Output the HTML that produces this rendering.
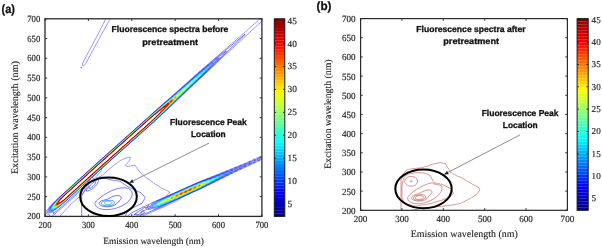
<!DOCTYPE html>
<html><head><meta charset="utf-8"><style>
html,body{margin:0;padding:0;background:#fff;width:602px;height:248px;overflow:hidden}
svg{display:block;will-change:transform;text-rendering:geometricPrecision}
.tk{font-family:"Liberation Serif",serif;fill:#1c1c1c;stroke:#1c1c1c;stroke-width:0.15px}
.sr{font-family:"Liberation Serif",serif;fill:#1c1c1c;stroke:#1c1c1c;stroke-width:0.12px}
.sb{font-family:"Liberation Sans",sans-serif;font-weight:bold;fill:#111;stroke:#111;stroke-width:0.3px}
</style></head><body>
<svg width="602" height="248" viewBox="0 0 602 248">
<rect width="602" height="248" fill="#fff"/>
<defs><clipPath id="cl"><rect x="45.0" y="18.8" width="216.9" height="197.6"/></clipPath><clipPath id="cr"><rect x="360.6" y="18.6" width="206.8" height="191.7"/></clipPath></defs><g clip-path="url(#cl)"><path d="M111.9 15.8 101.4 34.6 85.4 64.2 84.6 65.1 83.8 65.7 83.2 65.9 82.8 65.8 82.5 65.4 82.5 64.8 82.7 63.0 98.5 33.2 107.4 15.8M264.8 158.3 263.6 158.9 261.8 159.4 259.6 160.8 257.2 161.5 255.0 162.9 252.6 163.7 250.4 165.0 248.2 165.7 246.0 167.0 243.6 167.8 241.4 169.2 239.2 170.0 236.8 171.3 234.5 172.2 232.4 173.4 230.0 174.4 227.9 175.6 225.6 176.6 223.4 177.8 221.0 178.8 218.8 180.0 216.6 181.0 214.4 182.2 212.0 183.2 209.8 184.4 207.6 185.4 201.4 188.5 193.8 191.8 182.8 197.0 182.6 197.2 182.1 197.4 181.2 198.2 179.6 199.2 177.0 200.6 175.2 201.5 162.0 207.7 139.6 217.4 138.2 218.4 137.8 218.5 135.6 218.9 134.4 219.0 133.0 218.8 130.6 218.4 125.0 218.1 123.8 218.3 82.0 218.2 80.8 218.0 60.2 218.0 60.0 217.8 60.0 216.4 60.0 216.2 60.2 216.0 60.2 215.8 62.2 213.8 62.2 213.6 64.2 211.6 64.2 211.4 66.2 209.4 66.2 209.2 68.2 207.2 68.2 207.0 71.8 203.4 72.0 203.4 73.8 201.6 74.0 201.6 75.8 199.8 76.0 199.8 77.8 198.0 78.0 198.0 79.8 196.2 80.0 196.2 82.8 193.2 83.4 192.4 83.5 192.0 83.7 191.8 84.0 191.0 84.4 190.4 84.6 189.8 84.6 189.6 84.8 189.4 84.7 189.0 85.0 188.4 84.8 187.8 84.6 187.6 84.0 187.8 82.6 189.0 64.0 206.0 53.6 215.1 51.4 216.3 50.6 216.6 50.2 216.6 49.8 216.3 49.5 214.8 49.4 214.7 48.0 214.4 46.6 213.9 46.4 213.8 46.2 213.2 46.2 212.0 46.6 210.8 47.3 209.8 48.8 208.0 50.0 206.4 53.4 202.8 61.0 195.7 98.0 162.1 147.0 118.4 160.8 105.9 169.2 98.5 171.4 96.6 173.4 94.8 175.4 93.1 177.4 91.2 179.6 89.3 181.6 87.4 183.6 85.8 185.6 83.8 187.8 82.0 189.6 80.2 191.9 78.4 193.8 76.5 195.9 74.8 197.9 72.8 200.0 71.2 202.0 69.2 204.2 67.6 206.2 65.6 208.4 63.9 210.2 62.2 212.2 60.6 244.3 32.8 263.4 15.8M264.8 18.5 246.6 35.2 241.3 40.2 226.8 53.5 215.6 64.0 213.6 66.0 211.5 67.8 209.8 69.6 207.6 71.5 205.8 73.4 203.8 75.1 202.0 77.0 199.8 78.8 197.8 80.9 195.8 82.6 193.8 84.7 191.8 86.4 189.8 88.4 187.7 90.2 185.8 92.2 183.7 94.0 181.8 95.9 179.7 97.8 173.8 103.4 157.6 118.5 152.8 122.9 107.6 163.2 101.2 169.4 101.4 169.4 101.6 169.4 101.7 169.8 101.4 170.4 100.9 171.2 98.7 173.8 95.8 176.6 95.7 176.8 95.6 177.2 95.9 177.6 96.8 177.8 97.0 177.6 97.6 177.6 98.0 177.5 98.8 177.3 99.0 177.1 99.8 176.9 100.6 176.4 100.8 176.4 101.8 175.4 102.0 175.4 102.8 174.6 103.0 174.6 104.0 173.6 104.2 173.6 105.4 172.4 105.6 172.4 106.8 171.2 107.0 171.2 108.4 169.8 108.6 169.8 110.0 168.4 110.2 168.4 111.4 167.2 111.6 167.2 113.0 165.8 113.2 165.8 113.6 165.4 113.8 165.4 114.4 164.8 114.6 164.8 115.0 164.4 115.2 164.4 115.8 163.8 116.0 163.8 116.4 163.4 116.6 163.4 117.0 163.0 117.2 163.0 117.8 162.4 118.0 162.4 118.4 162.0 118.6 162.0 119.2 161.4 119.4 161.4 119.8 161.0 120.0 161.0 120.4 160.6 120.6 160.6 121.2 160.0 121.4 160.0 121.6 159.8 121.8 159.8 122.4 159.4 122.8 159.4 123.4 159.0 123.8 159.0 124.4 158.6 124.8 158.6 125.4 158.2 125.8 158.2 126.4 157.8 126.8 157.8 127.4 157.4 128.6 157.4 128.8 157.2 130.2 157.2 130.4 157.4 130.4 157.8 130.2 158.0 130.2 158.6 130.0 158.8 130.0 159.2 129.8 159.4 129.8 159.8 129.6 160.0 129.6 160.4 129.4 160.6 129.4 161.0 127.6 162.8 127.6 163.0 126.0 164.6 126.0 164.8 125.2 165.6 125.6 166.0 126.2 166.0 126.4 166.2 127.0 166.2 127.2 166.4 128.2 166.4 128.4 166.2 129.4 166.2 129.6 166.0 130.6 166.0 130.8 165.8 131.8 165.8 132.0 165.6 133.0 165.6 133.2 165.4 134.2 165.4 134.4 165.2 135.0 165.2 135.2 165.4 135.2 165.6 135.6 166.0 135.6 166.2 136.0 166.6 136.0 166.8 136.4 167.2 136.4 167.4 136.8 167.8 136.8 168.0 137.2 168.4 137.2 168.6 137.6 169.0 137.6 169.2 138.0 169.6 138.0 169.8 138.4 170.2 138.4 170.4 138.8 170.8 138.8 171.0 139.0 171.2 139.2 171.2 141.2 173.2 141.4 173.2 143.6 175.4 143.8 175.4 146.0 177.6 146.2 177.6 146.6 178.0 146.8 178.0 147.2 178.4 147.4 178.4 148.0 179.0 148.2 179.0 148.6 179.4 148.8 179.4 149.4 180.0 149.6 180.0 150.0 180.4 150.2 180.4 150.8 181.0 151.0 181.0 151.4 181.4 151.6 181.4 152.2 182.0 152.4 182.0 152.8 182.4 153.0 182.4 153.4 182.8 153.6 182.8 154.2 183.4 154.4 183.4 154.8 183.8 155.0 183.8 155.4 184.2 155.6 184.2 156.0 184.6 156.2 184.6 156.4 184.8 156.6 184.8 157.0 185.2 157.2 185.2 157.6 185.6 157.8 185.6 158.0 185.8 158.2 185.8 158.6 186.2 158.8 186.2 159.0 186.4 159.2 186.4 159.6 186.8 159.8 186.8 160.2 187.2 160.4 187.2 160.6 187.4 160.8 187.4 161.2 187.8 161.4 187.8 161.6 188.0 161.8 188.0 162.2 188.4 162.4 188.4 162.8 188.8 163.2 188.8 163.4 189.0 163.6 189.0 163.8 189.2 164.0 189.2 164.2 189.4 164.4 189.4 164.6 189.6 164.8 189.6 165.0 189.8 165.2 189.8 165.4 190.0 165.6 190.0 166.2 190.4 166.6 190.4 167.2 190.8 167.4 190.8 167.6 191.0 167.8 191.0 168.0 191.2 168.2 191.2 168.4 191.4 168.6 191.4 169.2 191.8 169.4 191.8 169.8 192.2 168.8 193.2 168.8 193.4 167.8 194.4 167.8 194.6 166.8 195.6 166.8 195.8 166.4 196.2 166.6 196.2 168.4 195.6 179.6 190.6 198.4 182.2 207.4 178.6 209.6 177.8 212.0 176.7 214.4 175.8 216.6 174.8 219.0 174.0 221.2 173.0 223.6 172.1 225.8 171.1 228.2 170.3 230.4 169.2 232.8 168.4 235.0 167.3 237.6 166.5 239.8 165.3 242.2 164.6 244.4 163.4 246.8 162.7 249.0 161.4 251.4 160.7 253.6 159.4 256.0 158.7 258.0 157.5 260.6 156.7 262.6 155.5 263.4 155.2 264.8 154.9M81.6 68.1 81.2 68.2 81.0 68.0 80.9 67.8 80.9 67.4 81.2 67.2 81.6 67.1 81.9 67.4 81.9 67.8 81.6 68.1Z" stroke="#0000f0" stroke-width="0.65" fill="none" stroke-linejoin="round" stroke-opacity="0.62"/>
<path d="M245.2 34.2 245.2 34.2ZM245.0 34.5 244.9 34.4 245.0 34.3 245.0 34.5ZM244.8 34.7 244.7 34.6 244.8 34.5 244.9 34.6 244.8 34.7ZM244.6 34.9 244.4 34.8 244.6 34.7 244.7 34.8 244.6 34.9ZM124.0 217.8 123.6 217.9 82.2 217.9 82.0 217.8 81.7 217.0 81.7 196.0 82.2 195.0 82.4 194.8 82.4 194.6 82.6 194.4 82.7 194.0 82.9 193.8 83.0 193.6 84.3 191.8 84.3 191.6 84.7 191.4 84.7 191.2 84.8 191.1 85.0 191.0 85.0 190.8 85.8 189.6 86.1 189.0 86.2 188.2 86.1 186.6 85.9 186.0 86.4 185.4 86.3 185.0 86.0 184.8 85.6 184.9 84.2 186.1 63.4 205.2 57.8 210.0 53.8 213.2 53.2 213.6 53.0 213.7 53.0 213.6 54.1 212.2 53.8 212.0 53.2 212.2 52.6 211.9 50.4 212.7 49.0 212.9 47.6 212.8 47.5 212.6 47.5 212.2 47.7 211.2 48.0 210.4 49.9 207.4 52.6 204.2 55.7 201.0 60.4 196.5 97.7 162.6 147.0 118.6 157.0 109.6 159.1 107.8 161.2 105.9 163.2 104.2 165.4 102.2 167.4 100.6 169.4 98.7 171.6 97.0 173.6 95.0 175.7 93.4 177.6 91.5 179.8 89.8 181.7 87.8 183.8 86.2 185.8 84.2 187.9 82.6 190.0 80.5 192.2 78.8 194.0 76.9 196.2 75.2 198.6 72.9 200.4 71.5 202.4 69.5 204.5 68.0 206.5 66.0 208.7 64.4 210.6 62.6 212.6 61.0 219.4 55.2 224.6 51.1 236.4 41.3 244.4 34.8 244.5 35.0 238.9 40.6 226.2 52.9 219.8 59.2 215.0 63.8 213.2 65.6 211.4 67.2 209.5 69.2 207.4 71.0 205.5 73.0 203.4 74.7 201.4 76.9 199.5 78.4 197.5 80.6 195.3 82.4 193.4 84.4 191.3 86.2 189.4 88.2 187.2 90.0 185.6 91.8 183.4 93.6 181.6 95.6 179.4 97.4 177.6 99.4 175.5 101.2 173.6 103.2 171.5 105.0 169.8 106.8 167.6 108.8 165.6 110.8 152.8 122.6 107.3 163.2 102.1 168.0 91.9 177.8 91.8 178.0 92.6 177.7 93.0 177.9 93.3 178.2 93.6 178.3 93.8 178.1 94.0 178.2 94.8 179.4 95.2 179.6 96.0 179.5 97.0 178.9 97.4 178.8 98.4 178.1 98.6 178.1 99.4 177.4 100.6 177.1 100.8 177.2 101.2 177.1 102.2 177.5 102.6 177.5 104.2 178.1 104.6 178.1 106.2 178.7 106.6 178.7 108.2 179.3 108.6 179.3 110.2 179.9 111.2 179.9 111.6 180.1 112.6 180.1 113.0 180.3 113.8 180.3 114.2 180.5 115.2 180.5 115.6 180.7 116.6 180.7 117.0 180.9 117.8 180.9 118.2 181.1 119.2 181.1 119.6 181.3 120.0 181.3 120.6 181.6 121.1 182.0 122.0 182.6 122.5 183.0 123.4 183.5 123.8 183.9 124.8 184.5 125.2 184.9 126.2 185.5 126.6 185.9 127.4 186.4 130.8 188.0 134.2 189.8 134.6 189.9 135.6 190.4 136.0 190.5 137.0 191.1 137.4 191.1 138.4 191.7 138.8 191.7 139.8 192.3 140.2 192.4 141.0 192.8 142.6 194.4 142.8 194.8 144.2 196.2 144.4 196.6 145.0 197.2 145.1 197.8 144.8 198.4 144.5 198.8 143.6 200.6 143.3 201.0 142.4 202.8 142.0 203.2 137.0 205.7 136.6 206.0 136.2 206.1 135.8 206.4 133.8 207.4 132.6 208.2 132.2 208.6 131.2 209.2 130.8 209.6 129.8 210.2 129.4 210.6 128.4 211.2 128.0 211.6 127.2 212.1 126.1 214.2 125.6 215.6 125.1 216.8 124.8 217.2 124.1 217.6 124.0 217.8ZM264.8 157.4 264.2 157.9 263.6 158.2 263.0 158.4 261.6 158.5 261.2 158.7 260.0 159.8 259.2 160.3 258.6 160.5 256.8 160.7 256.4 161.0 255.3 162.0 254.6 162.4 252.2 162.9 250.9 164.0 250.2 164.4 249.6 164.6 248.2 164.8 247.7 165.0 246.4 166.1 245.6 166.5 245.0 166.7 243.2 167.1 241.9 168.2 241.2 168.7 240.4 169.0 238.8 169.3 237.2 170.5 236.6 170.9 234.2 171.6 232.2 173.0 229.8 173.8 227.7 175.2 225.4 176.0 223.2 177.4 220.8 178.3 218.8 179.6 216.4 180.6 214.3 181.8 211.8 182.9 209.9 184.0 207.4 185.1 205.2 186.3 203.0 187.3 200.8 188.5 198.6 189.4 196.2 190.5 193.8 191.5 176.6 199.7 168.4 203.4 166.4 204.4 166.2 204.4 166.0 204.6 161.7 206.8 153.6 210.2 150.0 211.6 149.8 211.8 146.6 213.1 140.8 215.3 140.0 216.0 137.8 218.1 136.2 218.2 134.6 218.1 133.3 218.0 131.4 217.7 128.0 217.5 127.5 217.4 127.0 217.2 126.9 217.0 127.8 215.8 129.1 214.6 130.2 213.8 133.0 212.2 143.4 206.9 145.6 206.0 147.9 204.8 149.6 204.1 152.1 202.8 161.4 198.6 165.0 197.0 165.6 196.8 166.0 196.8 168.2 196.1 170.6 194.9 173.0 193.9 175.2 192.8 177.6 191.8 179.8 190.7 182.2 189.7 189.0 186.6 191.4 185.7 193.6 184.6 196.0 183.6 198.4 182.5 200.6 181.7 203.0 180.6 205.2 179.9 207.4 178.9 209.8 178.1 212.2 177.0 214.6 176.2 216.8 175.2 219.2 174.5 221.4 173.3 223.8 172.7 226.0 171.5 228.4 170.9 230.6 169.7 233.2 169.0 234.6 168.1 235.4 167.7 237.8 167.2 239.2 166.2 240.0 165.8 240.6 165.6 242.4 165.4 244.0 164.2 244.6 163.9 245.4 163.7 246.8 163.5 247.2 163.4 248.4 162.4 249.2 161.9 250.0 161.7 251.3 161.6 251.8 161.4 253.0 160.4 253.8 160.0 254.6 159.8 256.2 159.6 256.6 159.3 257.7 158.4 258.4 158.0 259.0 157.8 260.4 157.7 260.9 157.6 261.2 157.4 262.3 156.4 263.0 156.0 263.8 155.8 264.8 155.8M87.6 181.8 89.8 179.9 90.8 179.0 90.9 178.8 88.8 180.7 88.6 180.8 87.6 181.8ZM141.0 214.8 143.8 213.1 144.4 212.4 144.4 212.0 144.1 211.8 143.4 211.6 142.9 211.6 142.4 211.8 141.5 212.6 140.8 213.8 140.7 214.0 140.7 214.4 140.8 214.6 141.0 214.8Z" stroke="#0000f0" stroke-width="0.65" fill="none" stroke-linejoin="round" stroke-opacity="0.8"/>
<path d="M226.4 51.1 226.4 51.0 226.5 51.0 226.4 51.1ZM226.2 51.3 226.1 51.2 226.2 51.1 226.3 51.2 226.2 51.3ZM226.0 51.5 225.9 51.4 226.0 51.3 226.1 51.4 226.0 51.5ZM225.8 51.7 225.6 51.6 225.8 51.5 225.9 51.6 225.8 51.7ZM225.6 51.9 225.4 51.8 225.6 51.6 225.7 51.8 225.6 51.9ZM48.8 211.8 48.6 211.6 49.1 210.2 50.0 208.2 50.7 207.0 52.5 204.8 57.3 199.8 60.6 196.6 97.8 162.8 153.1 113.4 155.2 111.6 157.2 109.7 159.3 108.0 161.4 106.0 163.5 104.4 165.6 102.4 167.6 100.8 169.6 98.9 171.8 97.2 173.8 95.3 175.9 93.6 177.8 91.7 180.2 89.8 182.0 88.0 184.2 86.3 186.0 84.4 188.4 82.6 190.2 80.7 192.4 79.0 194.4 77.0 196.5 75.4 198.4 73.4 200.7 71.8 202.6 69.8 204.8 68.3 206.6 66.4 209.0 64.8 211.0 62.9 213.1 61.4 214.8 59.9 219.8 55.9 225.4 51.8 225.5 52.0 222.2 55.6 216.5 61.6 214.7 63.2 213.0 65.2 211.0 66.8 209.2 69.0 207.1 70.6 205.3 72.8 203.2 74.4 201.3 76.6 199.2 78.2 197.3 80.4 195.2 82.0 193.4 84.0 191.2 85.8 189.4 87.8 187.2 89.6 185.4 91.6 183.2 93.4 181.2 95.5 179.2 97.2 177.4 99.1 175.2 101.0 173.4 103.0 171.3 104.8 169.6 106.6 167.4 108.6 165.4 110.6 163.4 112.4 161.4 114.4 159.4 116.2 152.6 122.6 107.2 163.1 97.2 172.4 81.6 186.7 65.8 201.1 62.2 204.3 57.4 208.2 56.2 209.0 54.0 210.3 52.4 211.0 50.2 211.6 48.8 211.8ZM263.4 157.6 262.6 157.8 262.2 157.7 262.1 157.6 262.6 157.0 263.2 156.6 264.0 156.5 264.5 156.6 264.1 157.2 263.4 157.6ZM258.6 159.8 258.0 159.9 257.3 159.8 257.9 159.0 258.6 158.6 259.6 158.4 260.0 158.5 260.2 158.6 259.5 159.4 258.6 159.8ZM253.6 162.0 252.8 162.0 252.6 161.8 253.1 161.2 253.6 160.7 254.2 160.5 254.8 160.4 255.6 160.4 255.7 160.6 255.3 161.2 254.8 161.6 254.2 161.9 253.6 162.0ZM249.6 164.0 248.8 164.1 247.8 164.1 247.7 164.0 248.6 163.0 249.4 162.5 250.2 162.3 251.4 162.4 250.6 163.5 250.2 163.8 249.6 164.0ZM137.6 217.5 136.0 217.5 135.6 217.4 135.3 217.2 135.6 216.8 136.8 215.7 138.4 214.6 138.5 214.4 138.4 214.2 137.5 214.2 134.2 214.7 134.0 214.6 137.1 212.4 141.8 209.5 143.4 208.2 144.2 207.7 145.2 207.4 145.8 207.5 146.0 207.3 146.2 207.4 146.4 207.6 146.2 207.9 146.0 207.8 145.6 208.4 146.1 208.8 146.4 208.8 146.6 208.7 147.2 208.2 147.7 207.2 147.7 206.8 147.6 206.7 147.0 207.3 146.9 207.2 146.8 207.0 146.9 206.8 147.4 206.4 147.6 206.0 148.6 205.7 148.8 205.8 148.7 206.0 148.8 206.1 149.4 206.3 150.4 206.0 151.1 205.4 151.7 204.4 151.8 204.2 151.7 204.0 152.2 203.5 153.2 202.9 155.0 202.3 156.2 201.4 156.9 201.0 158.8 200.3 162.0 198.7 165.6 197.2 166.4 197.0 168.4 196.3 170.8 195.1 173.2 194.1 175.2 193.1 177.6 192.1 179.8 191.0 182.2 190.0 184.6 188.8 186.8 188.0 189.0 186.9 191.4 185.9 193.6 184.8 196.0 184.0 198.4 182.8 200.6 182.0 203.0 180.9 205.4 180.2 207.6 179.1 210.0 178.5 212.2 177.4 214.6 176.7 217.0 175.5 219.4 175.0 221.6 173.7 224.0 173.2 226.2 171.9 227.0 171.7 228.2 171.6 228.8 171.4 230.2 170.4 230.8 170.1 231.6 169.9 233.4 169.7 233.8 169.5 234.8 168.6 235.6 168.2 236.4 168.0 237.8 168.0 238.2 167.8 239.4 166.8 240.2 166.3 240.8 166.2 242.2 166.2 242.8 166.1 243.2 165.8 244.2 164.8 244.8 164.4 245.8 164.3 247.0 164.3 247.1 164.4 246.2 165.5 245.6 165.9 244.8 166.2 243.4 166.3 242.9 166.4 242.6 166.6 241.6 167.7 241.0 168.2 240.2 168.4 238.6 168.6 238.0 169.0 237.0 170.0 236.4 170.4 235.8 170.6 234.0 170.9 233.6 171.1 232.7 172.0 232.0 172.5 231.2 172.8 229.6 173.2 229.2 173.4 228.1 174.4 227.5 174.8 225.0 175.6 223.7 176.6 223.0 177.0 220.6 177.8 218.6 179.3 216.2 180.2 214.2 181.5 211.8 182.4 209.6 183.8 207.4 184.7 205.3 186.0 202.8 187.0 200.8 188.2 198.3 189.2 196.2 190.3 193.8 191.2 191.6 192.4 189.2 193.4 187.2 194.4 184.8 195.4 182.6 196.6 180.2 197.6 177.8 198.8 160.1 206.8 157.2 207.8 155.5 208.6 154.4 209.0 153.6 209.0 152.4 208.5 151.8 208.5 151.4 208.6 150.0 209.4 149.4 209.5 147.8 209.2 147.2 209.2 146.6 209.4 145.6 210.0 145.0 210.3 143.2 210.6 142.8 210.4 142.2 211.0 142.0 210.9 142.0 211.2 141.7 211.4 141.7 211.6 139.4 213.8 139.1 214.2 139.0 214.8 139.1 215.2 139.1 215.8 138.9 216.2 137.6 217.5ZM87.8 191.0 86.8 191.1 86.4 191.1 86.3 191.0 87.0 189.0 87.6 188.2 88.0 187.0 88.2 186.4 88.1 185.2 88.3 184.4 88.9 183.2 89.4 182.6 89.6 182.2 90.4 181.6 90.6 181.3 90.8 181.2 91.2 181.2 91.4 181.4 91.8 181.5 93.0 181.5 94.8 180.8 95.2 180.8 96.0 180.3 96.4 180.3 97.4 179.8 98.2 179.7 98.4 179.8 98.4 180.4 98.3 181.2 97.7 182.8 96.7 184.6 95.2 186.4 93.4 188.1 91.4 189.5 89.4 190.5 87.8 191.0ZM107.8 209.6 105.0 209.6 102.4 209.3 100.2 208.7 98.2 207.8 97.2 207.1 96.4 206.4 95.8 205.7 95.3 205.0 95.1 204.4 94.9 203.6 95.1 202.8 95.3 202.2 96.4 200.9 100.2 197.7 102.0 196.3 104.4 194.7 107.4 192.9 110.4 191.3 113.0 190.1 115.6 189.2 118.0 188.5 120.6 188.0 122.8 187.8 125.0 187.8 126.8 188.1 128.4 188.6 129.9 189.4 131.0 190.4 131.7 191.6 132.1 193.0 132.2 194.6 131.8 196.2 131.1 197.8 130.1 199.4 128.8 201.0 127.1 202.6 125.0 204.1 123.0 205.3 120.6 206.5 118.2 207.5 115.8 208.3 113.2 208.9 110.6 209.4 107.8 209.6ZM151.6 204.3 151.5 204.2 151.6 204.1 151.7 204.2 151.6 204.3ZM148.2 206.4 148.5 206.2 148.4 206.1 148.2 206.4Z" stroke="#0000fb" stroke-width="0.65" fill="none" stroke-linejoin="round" stroke-opacity="0.8"/>
<path d="M219.4 57.4 219.4 57.4ZM50.6 210.6 49.8 210.8 49.8 210.6 50.2 209.6 50.5 208.2 51.3 206.8 52.3 205.4 53.6 204.0 58.6 198.8 60.6 196.8 97.8 163.0 153.2 113.6 155.4 111.7 157.2 110.0 159.5 108.2 161.6 106.2 163.6 104.6 165.6 102.7 167.7 101.0 169.8 99.1 172.0 97.4 174.0 95.4 176.1 93.8 178.0 91.8 180.4 90.0 182.1 88.2 184.4 86.5 186.2 84.6 188.6 82.8 190.4 80.8 192.6 79.3 194.5 77.2 196.8 75.6 198.6 73.6 201.0 72.0 202.4 70.4 203.0 69.9 205.2 68.6 206.4 67.2 207.0 66.6 207.8 66.0 209.5 65.2 211.2 63.4 213.4 62.0 215.2 60.4 219.2 57.5 219.2 57.6 216.1 61.0 214.2 62.7 212.6 64.8 210.6 66.4 209.5 68.0 209.0 68.7 208.4 69.2 207.1 70.0 206.6 70.4 205.7 71.8 205.0 72.6 202.9 74.2 201.1 76.4 199.0 78.0 197.1 80.2 195.0 81.8 193.2 83.9 191.0 85.6 189.2 87.7 187.0 89.4 185.2 91.5 183.0 93.2 181.2 95.2 179.0 97.0 177.4 98.8 175.1 100.8 173.2 102.8 171.2 104.6 169.2 106.7 167.0 108.6 165.2 110.5 163.2 112.2 161.3 114.2 159.3 116.0 157.4 117.9 152.6 122.3 107.0 163.0 97.1 172.2 64.8 201.7 60.0 205.6 55.0 209.2 53.8 209.9 52.6 210.4 50.6 210.6ZM254.6 161.0 254.5 161.0 254.6 161.0 254.6 161.0ZM254.2 161.3 254.0 161.2 254.2 161.1 254.4 161.2 254.2 161.3ZM249.6 163.4 249.2 163.5 249.0 163.4 249.8 162.9 250.0 162.9 250.3 163.0 249.6 163.4ZM244.8 165.6 244.4 165.7 244.2 165.6 244.6 165.2 245.0 165.0 245.4 164.8 245.8 164.9 245.9 165.0 245.6 165.3 244.8 165.6ZM240.4 167.8 239.6 167.9 239.2 167.8 239.8 167.1 240.4 166.8 241.2 166.7 241.7 166.8 241.2 167.4 240.4 167.8ZM235.8 170.1 234.8 170.1 234.4 170.1 234.2 170.0 235.0 169.1 235.6 168.7 236.4 168.5 237.3 168.6 237.4 168.8 236.8 169.5 236.4 169.8 235.8 170.1ZM149.6 208.4 149.0 208.5 148.2 208.4 148.5 207.8 149.0 207.4 150.6 206.8 151.2 206.4 152.4 204.8 153.0 204.2 153.6 203.8 154.6 203.6 155.2 203.3 156.2 202.4 156.3 202.0 157.0 201.5 158.4 200.9 158.6 201.0 158.8 200.8 159.0 200.9 159.4 200.5 159.6 200.6 159.7 200.4 159.8 200.3 160.0 200.4 160.1 200.2 160.2 200.1 162.2 199.0 163.4 198.7 163.6 198.5 163.8 198.6 164.0 198.4 164.3 198.4 164.4 198.2 164.6 198.2 164.8 197.9 168.6 196.6 170.8 195.3 173.2 194.4 175.2 193.3 177.8 192.3 180.0 191.1 182.4 190.2 184.4 189.2 186.9 188.2 189.2 187.0 191.6 186.1 193.8 185.0 196.2 184.2 198.4 183.0 200.8 182.3 203.2 181.1 205.4 180.6 207.8 179.4 210.2 178.8 212.4 177.6 214.8 177.1 217.0 175.9 217.8 175.7 219.6 175.5 221.2 174.4 221.8 174.1 222.4 173.9 224.2 173.8 224.8 173.4 225.8 172.6 226.4 172.3 227.2 172.1 228.4 172.2 229.0 172.1 229.4 171.8 230.4 170.9 231.0 170.6 232.0 170.4 233.0 170.5 233.2 170.6 232.4 171.6 231.8 172.1 231.2 172.3 229.8 172.5 229.2 172.6 228.0 173.9 227.4 174.3 226.8 174.6 225.4 174.8 224.8 175.0 223.5 176.2 222.9 176.6 222.2 176.9 220.4 177.3 219.0 178.5 218.4 178.9 216.0 179.8 214.0 181.2 211.6 182.1 209.6 183.5 207.2 184.4 205.0 185.8 202.8 186.7 200.6 188.0 198.2 188.9 196.0 190.1 193.6 191.0 191.6 192.1 189.2 193.1 187.0 194.3 184.6 195.2 182.4 196.4 180.0 197.4 177.6 198.6 175.4 199.5 173.2 200.6 170.8 201.5 168.6 202.6 166.2 203.5 164.2 204.6 161.8 205.4 159.4 206.6 158.4 206.8 156.8 206.8 156.4 207.0 155.2 207.7 154.6 207.9 153.8 207.9 152.0 207.4 151.4 207.5 151.0 207.6 149.6 208.4ZM89.8 188.2 89.0 188.4 88.8 188.3 88.7 188.0 88.7 187.6 89.0 187.0 90.4 185.2 92.0 183.6 94.0 182.0 95.0 181.7 95.4 181.8 95.5 182.4 95.2 183.4 94.6 184.4 93.8 185.4 92.8 186.4 91.8 187.2 90.8 187.8 89.8 188.2ZM108.8 206.6 106.8 206.7 104.8 206.5 103.0 206.2 101.4 205.7 100.2 205.1 99.5 204.4 99.1 203.6 99.2 202.8 99.6 202.2 100.1 201.8 101.6 200.9 103.4 200.3 107.8 199.0 111.4 197.1 114.0 196.1 116.2 195.6 118.2 195.6 119.6 195.9 120.3 196.2 120.7 196.6 121.1 197.2 121.2 197.8 121.1 198.6 120.7 199.4 119.8 200.5 118.0 202.1 116.0 204.2 114.6 205.1 112.8 205.9 111.0 206.3 108.8 206.6Z" stroke="#0037ff" stroke-width="0.65" fill="none" stroke-linejoin="round" stroke-opacity="1.0"/>
<path d="M52.6 209.8 51.2 210.0 50.8 209.9 50.7 209.8 50.8 209.0 51.0 208.2 51.7 206.8 52.8 205.2 54.6 203.2 60.8 196.9 98.1 163.0 149.2 117.4 151.4 115.5 153.4 113.6 155.4 112.0 157.4 110.1 159.5 108.4 161.8 106.2 163.8 104.6 165.8 102.7 168.0 101.0 169.9 99.2 172.2 97.5 174.2 95.5 176.2 94.0 178.2 91.9 180.6 90.2 182.2 88.4 184.6 86.7 186.4 84.7 188.6 83.2 190.6 81.0 192.8 79.5 194.7 77.4 197.0 75.9 198.2 74.4 198.8 73.8 199.6 73.2 201.2 72.4 201.6 72.0 202.5 70.8 203.2 70.1 203.8 69.8 205.2 69.3 205.6 69.0 206.0 68.6 206.8 67.4 207.4 66.8 208.0 66.5 209.8 65.7 210.2 65.4 211.6 63.8 212.4 63.3 213.0 63.1 213.0 63.2 212.2 64.4 211.6 64.9 210.5 65.6 210.1 66.0 209.1 67.8 208.7 68.4 208.0 68.9 206.7 69.6 206.3 70.0 205.4 71.6 204.8 72.4 204.2 72.9 202.6 73.8 201.6 75.4 200.9 76.2 198.6 77.8 197.5 79.4 196.9 80.0 194.7 81.6 193.0 83.7 190.8 85.4 189.0 87.6 186.8 89.2 185.0 91.4 182.8 93.1 181.0 95.1 178.8 96.9 177.2 98.7 175.0 100.6 173.0 102.8 171.0 104.5 169.0 106.6 167.0 108.4 165.2 110.2 163.0 112.2 161.0 114.2 159.0 116.0 157.2 117.8 155.2 119.6 152.7 122.0 106.9 162.8 82.2 185.5 64.7 201.4 61.8 203.8 56.4 207.9 54.2 209.2 53.4 209.6 52.6 209.8ZM236.0 169.4 235.6 169.5 235.5 169.4 236.0 169.1 236.2 169.1 236.4 169.2 236.0 169.4ZM231.0 171.8 230.4 171.9 230.2 171.8 230.6 171.4 231.2 171.0 231.8 170.9 232.3 171.0 231.6 171.6 231.0 171.8ZM226.4 174.2 224.8 174.4 224.6 174.2 225.8 173.2 226.4 172.8 227.2 172.6 228.2 172.7 228.3 172.8 227.6 173.6 227.0 174.0 226.4 174.2ZM154.8 207.0 154.2 207.2 153.4 207.1 152.1 206.8 151.9 206.6 152.6 205.4 153.2 204.8 153.8 204.4 155.4 203.9 156.0 203.4 157.0 202.2 157.4 201.9 159.8 201.1 161.2 200.1 162.0 199.6 164.4 198.8 166.2 197.8 168.8 196.8 170.8 195.6 173.4 194.6 175.4 193.5 177.8 192.6 180.0 191.4 182.4 190.5 184.8 189.2 187.0 188.4 189.2 187.2 191.6 186.4 193.8 185.3 196.2 184.5 198.6 183.2 200.9 182.6 203.2 181.4 205.6 180.9 207.8 179.7 210.4 179.2 212.0 178.2 212.6 177.9 215.0 177.5 217.2 176.3 218.0 176.1 219.8 175.9 220.2 175.7 221.3 174.8 222.0 174.5 222.6 174.4 224.0 174.4 224.6 174.2 224.8 174.4 224.2 174.8 223.4 175.7 222.8 176.2 222.0 176.5 220.8 176.7 220.2 176.9 218.8 178.2 218.2 178.6 215.8 179.4 213.8 180.9 211.4 181.7 209.4 183.2 207.0 184.1 205.0 185.5 202.6 186.5 200.4 187.9 198.2 188.6 196.0 189.9 193.6 190.8 191.4 192.0 189.0 192.9 186.8 194.1 184.4 195.0 182.4 196.1 179.8 197.1 177.6 198.3 175.2 199.2 173.2 200.3 170.8 201.0 168.4 202.3 166.0 203.0 164.0 204.2 163.2 204.5 161.6 204.8 159.8 205.8 159.2 206.0 158.6 206.1 157.0 206.0 156.4 206.1 154.8 207.0ZM107.4 205.8 104.8 205.6 103.6 205.3 102.6 204.9 101.8 204.4 101.4 204.0 101.2 203.4 101.4 202.8 101.7 202.4 102.2 202.0 103.8 201.2 105.8 200.7 108.0 200.4 110.4 200.3 112.2 200.5 113.4 200.9 113.8 201.2 114.2 201.7 114.5 202.4 114.3 203.2 113.9 203.8 113.0 204.5 112.0 205.0 110.6 205.4 109.0 205.7 107.4 205.8Z" stroke="#0072ff" stroke-width="0.65" fill="none" stroke-linejoin="round" stroke-opacity="1.0"/>
<path d="M206.6 69.1 206.4 69.1 206.3 69.0 206.9 68.0 207.4 67.4 208.2 66.9 209.0 66.7 209.1 66.8 208.8 67.4 208.2 68.2 207.6 68.6 206.6 69.1ZM206.2 69.2 206.2 69.2ZM206.0 69.4 206.0 69.4ZM205.8 69.7 205.7 69.6 205.8 69.5 205.9 69.6 205.8 69.7ZM52.0 209.4 51.2 209.4 51.5 208.0 52.3 206.4 53.1 205.2 54.5 203.6 58.1 199.8 60.8 197.1 97.8 163.5 153.6 113.7 155.6 112.0 157.5 110.2 159.8 108.3 161.6 106.6 163.9 104.8 166.0 102.8 168.1 101.2 170.0 99.3 172.4 97.6 174.4 95.6 176.4 94.2 178.2 92.2 180.7 90.4 181.9 89.0 182.5 88.4 184.8 86.9 186.0 85.4 186.6 84.8 188.9 83.4 190.1 81.8 190.7 81.2 191.4 80.7 193.1 79.8 194.3 78.2 194.8 77.6 195.4 77.2 196.8 76.6 197.3 76.2 198.4 74.6 199.2 73.8 199.8 73.5 201.2 73.0 201.6 72.7 202.0 72.3 202.8 71.0 203.4 70.4 204.2 70.0 205.6 69.6 205.8 69.8 205.2 71.2 204.8 71.8 204.2 72.4 202.6 73.2 202.2 73.6 201.2 75.4 200.7 76.0 200.2 76.4 198.4 77.4 198.0 77.9 197.3 79.2 196.8 79.8 196.2 80.3 194.9 81.0 194.4 81.4 193.5 82.8 192.8 83.6 192.2 84.1 190.6 85.1 188.8 87.4 186.6 89.0 184.9 91.2 182.7 92.8 180.9 95.0 178.7 96.6 177.1 98.6 174.8 100.5 173.0 102.6 171.0 104.3 169.0 106.4 167.0 108.2 165.0 110.2 163.0 112.0 161.0 114.0 159.0 115.8 152.8 121.7 105.8 163.6 64.6 201.2 59.0 205.7 56.2 207.7 54.0 208.9 53.0 209.2 52.0 209.4ZM226.8 173.6 226.2 173.8 226.0 173.6 226.8 173.1 227.2 173.1 227.4 173.2 226.8 173.6ZM222.2 176.0 220.8 176.2 220.6 176.0 221.4 175.3 222.0 174.9 222.6 174.8 223.5 174.8 223.4 175.0 223.0 175.5 222.2 176.0ZM220.6 176.2 220.5 176.2 220.6 176.2ZM154.0 206.6 153.4 206.6 152.6 206.4 153.0 205.6 153.4 205.2 154.0 204.9 155.6 204.3 156.0 204.0 157.1 202.8 157.6 202.4 158.2 202.1 160.0 201.5 162.0 200.0 162.6 199.8 164.4 199.3 166.6 197.9 169.0 197.1 171.0 195.8 173.4 195.0 175.4 193.7 178.0 192.8 180.2 191.5 182.6 190.7 184.6 189.5 187.2 188.6 189.4 187.4 191.8 186.6 194.0 185.4 196.4 184.7 198.6 183.4 201.2 182.8 203.2 181.7 205.8 181.2 207.4 180.2 208.0 180.0 210.4 179.6 211.0 179.3 212.0 178.6 212.8 178.2 215.2 177.9 215.8 177.6 216.8 176.9 217.4 176.6 218.4 176.5 219.6 176.5 219.7 176.6 218.8 177.6 218.1 178.2 217.6 178.4 216.2 178.7 215.6 179.0 213.8 180.5 213.0 180.9 211.8 181.1 211.2 181.4 209.4 182.9 208.8 183.2 206.8 183.8 204.8 185.3 202.6 186.1 200.4 187.6 198.0 188.4 196.0 189.6 193.4 190.6 191.2 191.8 188.8 192.7 186.8 193.8 184.4 194.7 182.0 196.0 179.7 196.8 177.6 198.0 175.1 198.8 173.0 200.0 170.6 200.6 168.8 201.7 168.2 202.0 165.8 202.6 163.8 203.8 163.0 204.1 161.8 204.2 161.2 204.3 159.6 205.3 159.0 205.5 158.4 205.6 156.8 205.5 156.2 205.6 155.8 205.7 154.6 206.5 154.0 206.6ZM109.0 204.6 107.2 204.7 105.6 204.4 105.0 204.2 104.5 203.8 104.3 203.4 104.2 203.0 104.7 202.4 105.4 202.0 106.6 201.6 107.6 201.4 109.0 201.4 110.2 201.5 111.1 201.8 111.7 202.2 112.0 202.8 111.9 203.2 111.6 203.6 110.6 204.2 109.0 204.6Z" stroke="#00adff" stroke-width="0.65" fill="none" stroke-linejoin="round" stroke-opacity="1.0"/>
<path d="M208.0 67.7 207.9 67.6 208.0 67.5 208.1 67.6 208.0 67.7ZM207.8 67.9 207.7 67.8 207.8 67.7 207.9 67.8 207.8 67.9ZM207.6 68.1 207.5 68.0 207.6 67.9 207.7 68.0 207.6 68.1ZM202.4 72.8 202.2 72.8 202.9 71.6 203.3 71.0 204.0 70.5 205.0 70.3 205.1 70.4 204.8 71.0 204.3 71.8 203.6 72.3 202.4 72.8ZM201.8 73.3 201.8 73.2 201.8 73.3ZM51.8 209.0 51.7 208.8 51.8 208.4 52.3 207.2 52.9 206.0 53.4 205.2 56.2 202.0 60.3 197.8 98.2 163.3 153.6 113.8 155.6 112.2 157.8 110.1 159.9 108.4 161.8 106.6 164.0 104.9 166.0 103.0 168.2 101.3 170.2 99.4 172.5 97.8 174.4 95.8 176.6 94.3 178.5 92.2 180.8 90.7 182.0 89.2 182.6 88.6 183.2 88.2 185.0 87.2 186.1 85.6 186.7 85.0 187.4 84.5 188.6 84.0 189.2 83.6 189.6 83.1 190.3 82.0 190.9 81.4 191.4 81.0 192.9 80.4 193.4 80.1 193.8 79.6 194.5 78.4 195.0 77.9 195.6 77.5 197.0 76.9 197.6 76.5 198.0 76.0 198.7 74.8 199.2 74.3 200.2 73.7 201.6 73.3 201.7 73.4 201.0 75.0 200.6 75.6 200.0 76.1 198.5 76.8 198.0 77.2 197.0 79.0 196.6 79.5 196.0 80.0 194.6 80.7 194.2 81.0 193.8 81.5 193.1 82.8 192.6 83.4 192.0 83.9 190.4 84.8 190.0 85.2 189.2 86.6 188.7 87.2 188.0 87.8 186.4 88.7 185.3 90.4 184.8 91.0 184.0 91.6 182.5 92.6 180.8 94.8 178.6 96.4 177.0 98.4 174.6 100.4 172.8 102.5 170.8 104.2 168.8 106.4 166.9 108.0 164.9 110.2 163.0 111.8 161.0 113.9 159.0 115.6 157.0 117.6 152.2 122.1 106.7 162.6 64.4 201.1 59.8 204.8 56.4 207.3 55.0 208.1 54.2 208.4 53.0 208.8 51.8 209.0ZM222.6 175.2 222.6 175.2ZM222.0 175.6 221.8 175.7 221.7 175.6 222.2 175.3 222.4 175.3 222.5 175.4 222.0 175.6ZM216.8 178.2 215.8 178.3 215.7 178.2 216.8 177.3 217.4 177.0 218.2 176.8 218.8 176.9 218.5 177.4 218.0 177.8 217.4 178.1 216.8 178.2ZM215.6 178.5 215.4 178.5 215.2 178.4 215.6 178.3 215.7 178.4 215.6 178.5ZM154.2 206.1 153.6 206.2 153.4 206.1 153.3 206.0 154.0 205.4 155.8 204.8 156.2 204.5 157.2 203.2 158.0 202.6 160.0 201.9 162.2 200.3 164.6 199.6 166.6 198.2 169.0 197.4 171.2 196.0 173.6 195.2 175.6 193.9 178.0 193.1 180.4 191.7 182.6 191.0 184.8 189.7 187.2 188.9 189.6 187.5 191.8 186.9 194.0 185.7 196.4 185.0 198.6 183.7 199.2 183.5 201.2 183.1 203.2 182.0 204.0 181.8 205.8 181.5 206.4 181.3 207.4 180.6 208.2 180.2 210.6 180.0 211.2 179.7 212.2 178.9 213.0 178.5 215.2 178.4 215.3 178.6 214.2 179.8 213.6 180.2 213.0 180.5 211.6 180.8 211.0 181.0 209.2 182.6 208.6 182.9 206.8 183.4 204.9 185.0 204.2 185.3 202.4 185.9 200.4 187.3 197.8 188.2 195.8 189.5 193.4 190.3 191.2 191.6 188.8 192.4 186.4 193.8 184.2 194.5 182.0 195.8 179.6 196.5 178.0 197.5 177.2 197.9 175.0 198.4 172.8 199.7 170.4 200.3 168.2 201.6 165.6 202.2 163.6 203.5 163.0 203.6 161.2 203.8 160.8 204.0 159.4 204.9 158.8 205.1 158.2 205.2 156.6 205.0 156.0 205.1 155.6 205.2 154.2 206.1Z" stroke="#00e8ff" stroke-width="0.65" fill="none" stroke-linejoin="round" stroke-opacity="1.0"/>
<path d="M203.2 72.1 203.1 72.0 203.2 71.8 203.5 71.4 204.0 71.0 204.4 70.8 204.4 71.0 204.0 71.6 203.2 72.1ZM198.4 76.4 198.4 76.2 198.8 75.4 199.4 74.6 200.0 74.2 201.0 73.9 201.0 74.0 200.7 74.8 200.2 75.5 199.6 75.9 198.4 76.4ZM53.0 208.4 52.4 208.5 52.2 208.4 52.8 206.8 53.9 205.0 56.4 202.0 60.4 197.8 98.2 163.4 153.6 114.0 155.8 112.2 157.8 110.2 160.0 108.5 161.8 106.8 164.1 105.0 166.2 103.0 168.4 101.4 170.2 99.6 172.6 98.0 174.6 95.9 176.8 94.6 178.0 93.0 178.6 92.4 179.2 92.0 180.4 91.4 181.0 91.0 181.4 90.5 182.1 89.4 182.7 88.8 183.4 88.3 184.7 87.8 185.2 87.5 185.6 87.0 186.3 85.8 186.9 85.2 187.6 84.8 189.0 84.2 189.4 83.9 189.8 83.5 190.5 82.2 191.1 81.6 191.8 81.2 193.2 80.7 193.6 80.4 194.0 80.0 194.8 78.6 195.2 78.1 196.0 77.6 197.4 77.2 197.5 77.2 196.9 78.6 196.4 79.3 195.8 79.7 194.0 80.6 193.6 81.1 192.9 82.6 192.4 83.2 191.8 83.7 190.6 84.2 190.0 84.6 189.6 85.2 189.0 86.4 188.5 87.0 188.0 87.4 186.2 88.4 185.8 88.9 185.0 90.4 184.6 90.8 184.0 91.3 182.8 92.0 182.2 92.4 181.2 94.0 180.6 94.7 180.0 95.2 178.4 96.2 176.9 98.2 176.2 98.9 174.6 100.1 172.7 102.4 170.7 104.0 168.8 106.2 166.8 107.9 164.8 110.1 162.8 111.8 160.9 113.8 158.8 115.6 157.1 117.4 152.4 121.8 106.6 162.6 64.3 201.0 60.2 204.3 57.2 206.5 55.2 207.6 53.0 208.4ZM217.6 177.6 217.2 177.7 217.1 177.6 217.6 177.3 217.8 177.3 217.9 177.4 217.6 177.6ZM158.4 204.8 157.6 204.8 156.6 204.6 157.3 203.6 158.0 203.0 158.6 202.7 160.2 202.2 160.8 201.8 161.8 200.9 162.3 200.6 164.6 200.0 166.8 198.4 169.2 197.7 171.2 196.3 173.6 195.5 175.6 194.2 176.4 193.8 178.2 193.3 180.4 191.9 182.8 191.2 184.8 189.9 187.4 189.1 189.6 187.8 192.0 187.1 194.2 185.8 196.6 185.2 198.2 184.2 198.8 183.9 199.4 183.7 201.2 183.5 202.9 182.4 203.6 182.1 206.0 181.8 206.5 181.6 207.6 180.8 208.2 180.5 208.8 180.4 210.2 180.5 210.8 180.3 211.2 180.1 212.3 179.2 213.0 178.9 214.0 178.8 214.2 178.8 214.4 179.0 213.8 179.7 213.2 180.1 212.6 180.3 211.4 180.4 210.8 180.7 209.5 182.0 209.0 182.4 208.4 182.7 206.6 183.1 205.2 184.4 204.6 184.9 204.0 185.1 202.3 185.6 201.8 185.9 200.8 186.8 200.2 187.2 197.8 187.9 195.8 189.2 195.0 189.5 193.2 190.1 191.0 191.5 188.6 192.2 186.6 193.4 184.1 194.2 181.8 195.6 179.4 196.3 177.4 197.5 174.8 198.1 172.8 199.4 172.2 199.6 170.2 200.0 168.2 201.3 167.4 201.5 165.6 201.8 163.6 203.1 162.8 203.3 161.0 203.5 160.6 203.7 159.2 204.6 158.4 204.8Z" stroke="#24ffdb" stroke-width="0.65" fill="none" stroke-linejoin="round" stroke-opacity="1.0"/>
<path d="M199.4 75.6 199.2 75.7 199.0 75.6 199.4 75.1 199.9 74.6 200.4 74.4 200.4 74.6 200.2 75.0 199.4 75.6ZM199.0 75.8 199.0 75.8ZM194.8 79.8 194.6 79.9 194.5 79.8 195.2 78.6 195.8 78.1 196.8 77.7 196.9 77.8 196.7 78.2 196.2 79.0 195.6 79.5 194.8 79.8ZM190.2 84.0 190.0 84.1 189.9 84.0 190.6 82.6 191.1 82.0 192.0 81.4 193.0 81.1 193.2 81.2 192.8 82.2 192.2 83.0 191.6 83.4 190.2 84.0ZM189.8 84.3 189.7 84.2 189.8 84.1 189.9 84.2 189.8 84.3ZM53.0 208.0 52.8 208.1 52.7 208.0 53.2 206.8 53.8 205.6 54.7 204.2 57.3 201.2 61.0 197.4 98.4 163.4 149.6 117.7 151.8 115.8 153.8 113.9 155.9 112.2 157.8 110.4 160.0 108.7 162.0 106.8 164.2 105.1 166.2 103.2 168.4 101.7 170.4 99.6 172.8 98.2 174.6 96.2 175.2 95.8 176.4 95.2 177.0 94.8 177.4 94.4 178.2 93.1 178.8 92.5 179.4 92.1 180.7 91.6 181.2 91.3 181.6 90.8 182.3 89.6 182.9 89.0 183.6 88.5 185.0 88.0 185.4 87.7 185.8 87.3 186.5 86.0 187.1 85.4 187.8 85.0 189.6 84.3 189.7 84.4 189.4 84.9 188.8 86.2 188.3 86.8 187.8 87.2 186.4 87.9 185.9 88.2 185.6 88.6 184.9 90.0 184.4 90.7 183.8 91.1 182.5 91.8 182.0 92.2 181.7 92.6 180.9 94.0 180.4 94.6 179.8 95.0 178.6 95.7 178.1 96.0 176.6 98.2 176.0 98.8 174.4 99.9 173.2 101.6 172.6 102.3 170.6 103.9 168.6 106.2 166.7 107.8 164.7 110.0 162.8 111.6 160.8 113.7 158.8 115.5 156.9 117.4 154.8 119.3 152.2 121.8 101.8 166.8 64.2 201.0 60.2 204.1 57.2 206.2 55.2 207.3 53.0 208.0ZM212.8 179.9 212.4 179.9 212.2 179.9 212.1 179.8 213.0 179.3 213.6 179.1 213.8 179.2 213.3 179.6 212.8 179.9ZM158.6 204.4 157.6 204.4 157.3 204.4 157.3 204.2 157.7 203.6 158.2 203.2 158.8 203.0 160.2 202.6 160.6 202.4 161.8 201.3 162.4 200.9 163.0 200.7 164.8 200.2 166.8 198.7 167.4 198.4 169.2 198.0 171.4 196.4 173.8 195.7 175.8 194.3 176.4 194.1 178.2 193.6 180.4 192.2 182.8 191.5 184.6 190.3 185.2 190.0 187.4 189.4 189.6 188.0 192.0 187.4 194.2 186.1 196.8 185.4 198.2 184.5 198.8 184.1 199.4 184.0 200.8 183.8 201.4 183.7 203.0 182.7 203.6 182.4 206.2 182.1 207.8 181.0 208.4 180.8 209.0 180.7 210.0 180.8 209.7 181.4 209.0 182.0 208.4 182.3 207.0 182.6 206.4 182.9 205.1 184.2 204.4 184.7 202.2 185.3 201.8 185.5 200.7 186.6 200.2 186.9 199.6 187.2 197.6 187.6 195.7 189.0 195.0 189.3 193.1 189.8 191.0 191.2 188.6 191.9 186.6 193.2 185.8 193.5 184.0 193.9 182.4 195.0 181.6 195.4 179.4 195.9 177.2 197.3 174.8 197.8 172.6 199.2 170.0 199.7 168.4 200.8 167.8 201.1 165.4 201.4 164.8 201.8 163.8 202.6 163.2 202.9 162.6 203.0 161.2 203.1 160.6 203.2 159.2 204.1 158.6 204.4Z" stroke="#60ff9f" stroke-width="0.65" fill="none" stroke-linejoin="round" stroke-opacity="1.0"/>
<path d="M195.4 79.2 195.2 79.3 195.1 79.2 195.6 78.6 196.2 78.3 196.3 78.4 196.0 78.8 195.4 79.2ZM190.8 83.4 190.6 83.4 191.0 82.6 191.3 82.2 192.0 81.8 192.6 81.5 192.7 81.6 192.4 82.2 192.0 82.8 191.4 83.2 190.8 83.4ZM186.2 87.6 186.0 87.6 186.6 86.4 187.2 85.7 188.0 85.2 188.8 85.0 189.0 85.0 188.6 86.0 188.0 86.7 187.4 87.1 186.2 87.6ZM185.4 88.3 185.3 88.2 185.4 88.2 185.4 88.3ZM54.0 207.4 53.4 207.6 53.3 207.4 54.0 205.8 55.2 204.0 57.5 201.2 61.0 197.5 98.4 163.5 149.6 117.8 151.8 115.9 153.9 114.0 156.0 112.3 157.8 110.6 160.1 108.8 162.2 106.8 164.4 105.2 166.2 103.4 168.6 101.8 170.5 99.8 171.0 99.4 172.4 98.8 173.0 98.4 174.2 96.9 174.8 96.3 175.4 95.9 176.6 95.4 177.2 95.0 177.6 94.6 178.4 93.3 179.0 92.7 179.6 92.3 180.9 91.8 181.4 91.5 181.8 91.1 182.5 89.8 183.1 89.2 183.6 88.8 184.2 88.6 185.2 88.3 185.4 88.4 184.7 89.8 184.2 90.5 183.6 90.9 182.2 91.6 181.8 91.9 181.4 92.4 180.7 93.8 180.2 94.4 179.7 94.8 178.4 95.4 177.9 95.8 176.5 98.0 175.8 98.6 174.2 99.7 173.8 100.2 173.0 101.6 172.4 102.2 170.4 103.8 168.6 106.0 166.6 107.6 164.7 109.8 162.6 111.6 160.8 113.6 158.7 115.4 156.8 117.4 154.8 119.1 152.2 121.7 101.6 166.8 64.2 200.8 60.8 203.5 57.8 205.6 55.8 206.7 54.0 207.4ZM207.6 182.2 207.0 182.3 206.8 182.2 207.6 181.5 208.2 181.2 208.8 181.0 209.4 181.1 209.4 181.3 208.8 181.8 208.2 182.1 207.6 182.2ZM162.8 202.6 161.2 202.7 161.0 202.6 161.9 201.6 162.6 201.1 165.0 200.5 165.4 200.3 166.4 199.3 167.0 198.9 167.6 198.7 169.4 198.2 171.4 196.7 172.0 196.5 173.9 196.0 175.8 194.6 176.6 194.3 178.4 193.8 180.0 192.6 180.6 192.3 183.0 191.6 185.0 190.3 187.6 189.6 189.2 188.5 189.7 188.2 192.2 187.6 193.8 186.5 194.4 186.2 196.8 185.8 198.4 184.6 199.0 184.3 199.6 184.2 201.0 184.1 201.5 184.0 202.0 183.7 203.0 183.0 203.8 182.6 204.6 182.5 206.2 182.6 205.0 183.9 204.4 184.4 203.8 184.6 202.0 185.0 201.6 185.3 200.5 186.4 200.0 186.7 199.4 187.0 197.6 187.3 197.1 187.6 195.6 188.8 195.0 189.1 193.0 189.6 191.4 190.7 190.8 191.1 188.4 191.7 186.4 193.0 185.8 193.2 184.0 193.7 181.9 195.0 181.2 195.3 179.2 195.7 177.2 197.0 176.6 197.2 174.6 197.6 173.0 198.6 172.4 198.9 170.4 199.2 169.9 199.4 168.4 200.4 167.8 200.8 167.2 200.9 165.8 201.0 165.2 201.1 163.6 202.3 162.8 202.6ZM158.6 204.0 158.0 204.1 157.8 204.0 158.2 203.6 158.6 203.4 159.6 203.2 159.9 203.2 158.6 204.0Z" stroke="#9bff64" stroke-width="0.65" fill="none" stroke-linejoin="round" stroke-opacity="1.0"/>
<path d="M192.0 82.3 191.8 82.2 192.0 82.1 192.1 82.2 192.0 82.3ZM191.4 82.8 191.3 82.8 191.4 82.6 191.8 82.2 191.9 82.4 191.4 82.8ZM186.8 87.1 186.7 87.0 186.7 86.8 187.3 86.0 187.8 85.6 188.5 85.4 188.4 85.8 187.9 86.4 187.4 86.8 186.8 87.1ZM182.2 91.3 182.1 91.2 182.5 90.4 183.0 89.6 183.8 89.0 184.8 88.7 184.9 88.8 184.5 89.6 184.0 90.3 183.4 90.7 182.2 91.3ZM54.2 207.0 53.8 207.1 53.8 207.0 54.7 205.2 55.9 203.4 57.9 201.0 61.1 197.6 98.5 163.6 149.6 117.9 151.9 116.0 154.0 114.0 156.1 112.4 157.9 110.6 160.2 108.9 162.2 106.9 164.4 105.4 166.4 103.4 168.8 101.9 170.1 100.4 170.6 99.9 171.2 99.5 172.6 98.9 173.1 98.6 174.4 97.0 175.0 96.5 177.4 95.3 177.8 94.8 178.6 93.5 179.2 92.9 179.8 92.5 181.0 92.1 181.2 92.2 180.7 93.4 180.2 94.0 179.6 94.5 178.2 95.2 177.7 95.6 176.4 97.8 175.7 98.4 174.0 99.5 173.6 100.0 172.8 101.4 172.4 102.0 170.3 103.6 169.1 105.2 168.4 106.0 166.4 107.6 164.6 109.7 162.6 111.4 160.6 113.6 158.6 115.3 156.8 117.2 154.8 119.0 152.0 121.7 101.6 166.7 64.2 200.7 61.0 203.2 58.4 205.0 56.2 206.2 54.2 207.0ZM208.8 181.4 208.6 181.5 208.5 181.4 208.8 181.4 208.8 181.4ZM208.4 181.7 208.2 181.7 208.1 181.6 208.4 181.5 208.6 181.6 208.4 181.7ZM208.0 181.8 207.8 181.8 208.0 181.7 208.1 181.8 208.0 181.8ZM167.2 200.6 165.6 200.7 165.5 200.6 166.6 199.5 167.2 199.1 169.6 198.5 171.0 197.3 171.6 196.9 172.2 196.7 174.0 196.3 176.0 194.8 176.6 194.5 178.5 194.0 180.0 192.9 180.8 192.5 182.6 192.1 183.2 191.8 185.2 190.5 187.6 189.9 189.6 188.5 190.4 188.2 192.2 187.9 192.8 187.6 193.8 186.8 194.6 186.4 196.9 186.0 198.6 184.8 199.2 184.5 201.6 184.3 202.0 184.1 203.0 183.3 203.6 183.0 204.6 182.8 205.2 182.8 205.4 183.0 204.8 183.7 204.2 184.2 203.6 184.4 202.4 184.6 201.8 184.8 200.4 186.2 200.0 186.5 199.4 186.7 198.0 186.9 197.4 187.1 195.5 188.6 194.8 188.9 193.0 189.3 190.8 190.8 188.4 191.4 186.3 192.8 185.6 193.1 183.8 193.5 181.8 194.8 181.0 195.1 179.2 195.4 177.0 196.8 176.4 197.0 175.0 197.1 174.4 197.3 173.0 198.3 172.4 198.6 171.8 198.8 170.4 198.9 169.8 199.1 168.2 200.2 167.2 200.6ZM162.2 202.4 161.8 202.4 161.8 202.2 162.6 201.5 163.6 201.1 164.2 201.1 164.4 201.1 164.5 201.2 163.4 202.1 162.8 202.3 162.2 202.4Z" stroke="#d6ff29" stroke-width="0.65" fill="none" stroke-linejoin="round" stroke-opacity="1.0"/>
<path d="M187.8 86.1 187.7 86.0 187.8 85.9 187.9 86.0 187.8 86.1ZM187.6 86.3 187.5 86.2 187.6 86.1 187.7 86.2 187.6 86.3ZM187.4 86.5 187.3 86.4 187.4 86.3 187.5 86.4 187.4 86.5ZM183.0 90.6 182.8 90.7 182.7 90.6 183.2 89.8 183.8 89.3 184.4 89.2 184.2 89.6 183.9 90.0 183.5 90.4 183.0 90.6ZM178.4 94.8 178.2 94.9 178.1 94.8 178.7 93.8 179.2 93.2 180.0 92.7 180.6 92.5 180.7 92.6 180.4 93.4 179.9 94.0 179.3 94.4 178.4 94.8ZM54.6 206.6 54.4 206.7 54.3 206.6 54.5 206.0 55.3 204.6 56.4 203.0 58.2 200.8 61.2 197.6 98.6 163.6 149.6 118.1 152.0 116.1 154.0 114.2 156.2 112.5 158.0 110.7 160.3 109.0 162.4 106.9 164.6 105.5 166.4 103.6 167.2 103.0 168.5 102.4 169.0 102.0 170.6 100.2 171.4 99.7 172.8 99.1 173.3 98.8 173.7 98.4 174.6 97.2 175.2 96.6 176.0 96.2 177.0 95.9 177.0 96.0 176.7 96.8 176.2 97.6 175.6 98.2 174.2 99.0 173.8 99.3 173.4 99.8 172.8 101.0 172.4 101.7 171.8 102.2 170.6 103.0 170.0 103.5 168.9 105.2 168.4 105.8 166.3 107.4 164.5 109.6 162.4 111.4 160.6 113.4 158.5 115.2 156.7 117.2 154.6 119.0 152.0 121.6 101.5 166.6 64.1 200.6 61.4 202.7 59.0 204.4 56.6 205.8 54.6 206.6ZM203.0 184.2 202.3 184.2 203.2 183.5 203.7 183.2 204.6 183.0 204.8 183.1 204.9 183.2 204.4 183.7 204.0 184.0 203.0 184.2ZM171.4 198.6 170.2 198.7 170.0 198.6 171.2 197.5 171.8 197.1 174.2 196.5 175.6 195.3 176.2 194.9 178.6 194.3 180.2 193.0 180.8 192.7 183.2 192.1 184.8 190.9 185.4 190.6 187.8 190.0 189.8 188.6 190.4 188.4 191.8 188.3 192.4 188.1 193.9 187.0 194.6 186.6 197.0 186.3 197.5 186.0 198.6 185.1 199.2 184.7 200.2 184.6 201.2 184.7 201.3 184.8 200.4 185.9 199.8 186.3 199.2 186.5 197.8 186.7 197.2 186.9 195.4 188.4 194.8 188.6 192.8 189.1 191.2 190.4 190.6 190.7 188.3 191.2 186.2 192.6 185.6 192.8 183.8 193.2 183.2 193.5 182.2 194.3 181.6 194.6 181.0 194.8 179.0 195.2 177.0 196.5 176.4 196.7 174.4 197.0 172.6 198.3 172.0 198.5 171.4 198.6ZM167.6 200.2 166.6 200.4 166.4 200.4 166.3 200.2 166.8 199.7 167.4 199.3 168.2 199.1 169.3 199.0 168.2 199.9 167.6 200.2ZM162.8 202.0 162.3 202.0 163.2 201.5 163.4 201.5 163.6 201.6 162.8 202.0Z" stroke="#ffed00" stroke-width="0.65" fill="none" stroke-linejoin="round" stroke-opacity="1.0"/>
<path d="M183.6 89.8 183.6 89.8 183.6 89.8ZM183.4 90.0 183.5 90.0 183.4 90.0ZM179.0 94.3 178.8 94.4 178.7 94.2 179.1 93.6 179.6 93.2 180.2 92.9 180.3 93.0 179.9 93.6 179.5 94.0 179.0 94.3ZM174.2 98.7 174.0 98.8 173.9 98.6 175.0 97.1 175.8 96.5 176.4 96.3 176.6 96.4 176.2 97.2 175.8 97.7 175.2 98.2 174.2 98.7ZM173.8 98.9 173.7 98.8 173.8 98.7 174.0 98.8 173.8 98.9ZM173.6 99.1 173.5 99.0 173.6 98.9 173.7 99.0 173.6 99.1ZM173.4 99.4 173.2 99.2 173.4 99.1 173.5 99.2 173.4 99.4ZM55.4 206.0 55.0 206.2 54.8 206.0 55.6 204.6 56.5 203.2 58.4 200.8 61.4 197.6 98.6 163.8 149.8 118.0 152.0 116.2 154.2 114.2 156.3 112.6 158.1 110.8 160.4 109.1 162.4 107.1 164.8 105.6 166.0 104.2 166.6 103.6 169.0 102.3 169.4 101.9 170.4 100.7 170.9 100.2 171.6 99.8 173.2 99.2 173.4 99.4 172.6 101.0 172.2 101.6 171.6 102.1 170.0 103.2 168.3 105.6 166.2 107.3 164.4 109.6 162.4 111.2 160.5 113.4 158.4 115.1 156.6 117.1 154.6 118.9 152.0 121.5 101.4 166.6 64.0 200.5 59.6 203.8 57.4 205.1 55.4 206.0ZM203.6 183.8 203.4 183.9 203.2 183.8 203.8 183.4 204.2 183.3 204.4 183.4 203.6 183.8ZM198.0 186.4 197.4 186.4 199.0 185.1 199.8 184.9 200.6 184.9 200.8 185.0 200.2 185.7 199.6 186.1 199.0 186.3 198.0 186.4ZM197.0 186.6 196.9 186.6 197.1 186.6 197.0 186.6ZM174.8 196.6 174.5 196.6 175.6 195.6 176.2 195.2 176.8 194.9 178.2 194.7 178.8 194.5 180.2 193.3 181.0 192.9 182.8 192.5 183.4 192.3 184.8 191.2 185.4 190.9 187.8 190.3 189.8 188.9 190.6 188.6 192.4 188.4 193.0 188.0 194.0 187.2 194.8 186.8 196.6 186.7 196.8 186.7 196.9 186.8 195.4 188.1 194.6 188.5 193.2 188.7 192.6 188.9 191.2 190.1 190.6 190.4 190.0 190.6 188.2 191.0 186.2 192.4 185.4 192.6 183.6 193.0 181.6 194.4 180.8 194.7 179.0 194.9 178.4 195.3 177.4 196.0 176.8 196.4 176.2 196.5 174.8 196.6ZM172.0 198.2 171.0 198.4 170.8 198.2 171.4 197.6 172.0 197.3 172.8 197.1 173.8 197.0 172.8 197.8 172.0 198.2ZM167.4 200.0 167.0 200.1 166.8 200.0 167.6 199.5 168.2 199.4 168.4 199.4 167.9 199.8 167.4 200.0ZM54.8 206.3 54.8 206.1 54.9 206.2 54.8 206.3Z" stroke="#ffb200" stroke-width="0.65" fill="none" stroke-linejoin="round" stroke-opacity="1.0"/>
<path d="M174.6 98.2 174.6 98.0 175.2 97.2 176.0 96.7 176.1 96.8 175.6 97.5 174.6 98.2ZM55.6 205.7 55.4 205.7 55.3 205.6 56.1 204.2 57.2 202.6 58.9 200.4 61.4 197.7 98.7 163.8 149.8 118.1 152.2 116.2 154.2 114.3 156.4 112.6 158.2 110.8 160.6 109.2 161.9 107.8 162.5 107.2 164.8 105.8 166.7 103.8 169.2 102.5 170.4 101.0 171.0 100.4 171.8 100.0 172.8 99.7 172.9 99.8 172.7 100.2 172.1 101.4 171.4 102.0 169.8 103.1 168.2 105.5 166.0 107.2 164.4 109.4 162.2 111.1 160.4 113.3 158.4 115.0 156.6 117.0 154.5 118.8 151.9 121.4 101.4 166.4 64.0 200.4 61.6 202.2 59.8 203.4 57.6 204.7 55.6 205.7ZM199.2 186.0 198.4 186.1 198.2 186.0 198.8 185.5 199.4 185.2 200.0 185.1 200.4 185.2 199.8 185.8 199.2 186.0ZM194.6 188.2 193.4 188.4 193.2 188.2 194.0 187.5 194.6 187.1 195.4 186.9 196.2 186.9 196.3 187.0 195.4 187.9 194.6 188.2ZM193.2 188.4 192.9 188.4 193.2 188.2 193.3 188.4 193.2 188.4ZM188.4 190.6 188.0 190.7 187.8 190.6 188.4 190.3 189.8 189.1 190.8 188.8 192.0 188.7 192.3 188.8 191.2 189.8 190.6 190.2 190.0 190.4 188.4 190.6ZM183.8 192.6 183.6 192.7 183.4 192.6 185.4 191.1 186.0 190.9 187.8 190.6 187.9 190.8 186.6 191.9 186.0 192.2 185.2 192.5 183.8 192.6ZM180.8 194.4 179.6 194.5 179.4 194.5 179.3 194.4 180.2 193.6 181.0 193.1 181.6 192.9 183.2 192.7 183.3 192.8 181.8 194.0 180.8 194.4ZM176.4 196.2 175.6 196.3 175.3 196.2 176.0 195.6 176.6 195.2 177.4 195.0 178.2 194.9 178.3 195.0 177.2 195.9 176.4 196.2ZM171.8 198.0 171.3 198.0 172.2 197.5 172.8 197.3 172.9 197.4 172.4 197.8 171.8 198.0Z" stroke="#ff7700" stroke-width="0.65" fill="none" stroke-linejoin="round" stroke-opacity="1.0"/>
<path d="M56.0 205.3 55.8 205.2 56.6 203.8 57.7 202.2 59.6 199.8 61.5 197.8 98.8 163.9 149.8 118.3 152.3 116.2 154.0 114.6 156.4 112.8 158.4 110.8 160.6 109.4 162.5 107.4 165.0 105.9 166.3 104.4 166.8 103.9 167.4 103.6 169.2 102.7 169.6 102.4 170.5 101.2 171.0 100.7 171.8 100.2 172.5 100.0 172.3 100.6 171.8 101.4 171.2 101.9 170.0 102.6 169.6 103.0 168.5 104.8 168.0 105.4 165.9 107.0 164.2 109.3 162.1 111.0 160.3 113.2 158.4 114.8 156.6 116.8 154.4 118.8 151.8 121.4 101.3 166.4 63.8 200.4 61.4 202.2 59.8 203.2 57.8 204.4 56.0 205.3ZM199.8 185.5 199.6 185.6 199.5 185.4 199.8 185.3 199.9 185.4 199.8 185.5ZM199.4 185.7 199.2 185.7 199.1 185.6 199.4 185.5 199.6 185.6 199.4 185.7ZM199.0 185.8 198.8 185.8 199.0 185.7 199.1 185.8 199.0 185.8ZM194.4 188.0 194.0 188.1 193.8 188.0 194.2 187.6 194.8 187.3 195.4 187.2 195.8 187.2 195.2 187.7 194.4 188.0ZM189.8 190.2 189.0 190.3 188.8 190.2 189.5 189.6 190.0 189.3 190.6 189.1 191.6 189.0 191.4 189.3 190.8 189.8 190.2 190.1 189.8 190.2ZM185.2 192.2 184.6 192.3 184.3 192.2 185.0 191.6 185.6 191.3 186.4 191.0 187.2 191.0 186.2 191.9 185.2 192.2ZM180.6 194.2 180.0 194.3 179.9 194.2 180.6 193.6 181.2 193.3 182.2 193.1 182.4 193.2 181.6 193.9 180.6 194.2ZM176.2 196.0 175.9 196.0 176.2 195.7 176.8 195.4 177.2 195.3 177.5 195.4 176.8 195.8 176.2 196.0Z" stroke="#ff3b00" stroke-width="0.65" fill="none" stroke-linejoin="round" stroke-opacity="1.0"/>
<path d="M170.2 102.2 170.2 102.0 171.0 100.9 171.8 100.4 172.0 100.3 172.2 100.4 171.9 101.0 171.5 101.4 170.2 102.2ZM56.4 204.8 56.3 204.8 56.5 204.4 58.1 202.0 60.0 199.6 61.6 197.8 98.8 164.0 149.8 118.4 152.4 116.3 154.2 114.6 156.4 113.0 158.4 111.0 160.8 109.5 162.6 107.5 165.0 106.2 165.4 105.8 166.4 104.6 167.0 104.0 168.0 103.5 169.0 103.1 169.1 103.2 168.4 104.6 168.0 105.2 167.4 105.7 165.8 106.8 164.1 109.2 162.0 110.8 160.2 113.1 158.2 114.7 156.4 116.8 154.4 118.6 151.8 121.2 101.2 166.3 63.8 200.3 62.0 201.6 60.0 202.9 58.2 204.0 56.4 204.8ZM194.8 187.7 194.7 187.6 195.0 187.6 194.8 187.7ZM194.4 187.8 194.5 187.8 194.4 187.8ZM189.8 190.0 189.3 190.0 190.2 189.4 190.8 189.3 191.0 189.4 190.4 189.8 189.8 190.0ZM185.2 192.0 184.9 192.0 185.6 191.5 186.2 191.3 186.5 191.4 185.8 191.8 185.2 192.0ZM181.2 193.8 180.8 193.9 180.7 193.8 181.2 193.5 181.8 193.3 181.9 193.4 181.2 193.8ZM180.6 194.0 180.5 194.0 180.6 194.0Z" stroke="#ff0000" stroke-width="0.65" fill="none" stroke-linejoin="round" stroke-opacity="1.0"/>
<path d="M171.4 101.2 171.2 101.4 171.0 101.2 171.6 100.7 171.7 100.8 171.4 101.2ZM171.0 101.5 170.9 101.4 171.0 101.2 171.2 101.4 171.0 101.5ZM170.8 101.7 170.7 101.6 170.8 101.5 170.9 101.6 170.8 101.7ZM57.2 204.2 57.0 204.3 56.9 204.2 58.0 202.4 59.7 200.2 61.6 198.0 98.9 164.0 150.0 118.4 152.4 116.5 154.4 114.6 156.6 113.1 158.4 111.2 161.0 109.6 162.2 108.1 162.8 107.6 165.2 106.3 167.0 104.3 168.0 103.7 168.6 103.5 168.7 103.6 168.2 104.6 167.7 105.2 167.2 105.6 166.0 106.4 165.5 106.8 164.0 109.1 161.8 110.8 160.1 113.0 158.1 114.6 156.3 116.8 154.2 118.6 151.7 121.2 101.0 166.4 63.7 200.2 60.4 202.5 57.2 204.2ZM56.8 204.4 56.8 204.3 56.8 204.4Z" stroke="#c40000" stroke-width="0.65" fill="none" stroke-linejoin="round" stroke-opacity="1.0"/>
<path d="M165.8 106.3 165.6 106.2 166.8 104.7 167.4 104.2 168.2 103.8 168.3 104.0 168.2 104.2 167.6 105.1 167.0 105.5 165.8 106.3ZM57.6 203.8 57.4 203.9 57.3 203.8 58.5 202.0 60.0 200.0 61.7 198.0 98.7 164.4 150.1 118.4 152.5 116.6 154.4 114.7 156.7 113.2 158.6 111.2 161.0 109.8 162.8 107.8 163.4 107.4 165.0 106.7 165.6 106.2 165.6 106.4 165.2 106.9 164.3 108.4 163.8 109.0 161.7 110.6 160.0 112.9 158.0 114.5 156.3 116.6 154.2 118.4 151.8 121.0 101.4 165.8 63.6 200.1 60.4 202.3 57.6 203.8Z" stroke="#890000" stroke-width="0.65" fill="none" stroke-linejoin="round" stroke-opacity="1.0"/></g><g clip-path="url(#cr)"><path d="M410.0 211.0 401.2 211.0 401.0 210.8 401.0 180.2 401.2 180.0 401.2 179.6 401.4 179.4 401.4 179.0 401.6 178.8 401.6 178.4 401.8 178.2 401.8 177.8 402.0 177.6 402.0 177.2 402.2 177.0 402.2 176.6 402.4 176.4 402.4 176.0 402.6 175.8 402.6 175.4 402.8 175.2 402.8 174.8 403.0 174.6 403.0 174.2 403.2 174.0 403.2 173.6 407.0 169.8 407.4 169.8 407.6 169.6 408.4 169.6 408.6 169.4 409.4 169.4 409.6 169.2 410.4 169.2 410.6 169.0 411.4 169.0 411.6 168.8 412.4 168.8 412.6 168.6 414.0 168.6 414.2 168.4 416.4 168.4 416.6 168.2 418.8 168.2 419.0 168.0 420.4 168.0 420.6 167.8 421.2 167.8 421.4 167.6 422.0 167.6 422.2 167.4 422.8 167.4 423.0 167.2 423.6 167.2 423.8 167.0 424.2 167.0 424.4 166.8 425.0 166.8 425.2 166.6 425.8 166.6 426.0 166.4 426.6 166.4 426.8 166.2 427.4 166.2 428.0 165.8 428.4 165.8 428.6 165.6 429.0 165.6 429.6 165.2 430.0 165.2 430.2 165.0 430.6 165.0 430.8 164.8 431.2 164.8 431.8 164.4 432.2 164.4 432.4 164.2 433.2 164.2 433.4 164.0 434.0 164.0 434.2 163.8 435.0 163.8 435.2 163.6 435.8 163.6 436.0 163.4 436.8 163.4 437.0 163.2 437.6 163.2 437.8 163.0 438.6 163.0 438.8 162.8 439.4 162.8 439.6 162.6 440.4 162.6 440.6 162.8 441.4 162.8 441.6 163.0 442.6 163.0 442.8 163.2 443.6 163.2 443.8 163.4 444.6 163.4 444.8 163.6 445.2 163.6 445.4 163.8 445.4 164.0 445.8 164.4 445.8 164.6 446.2 165.0 446.2 165.2 446.6 165.6 446.6 165.8 447.0 166.2 447.0 166.4 447.4 166.8 447.4 167.0 447.8 167.4 447.8 167.6 448.2 168.0 448.2 168.2 448.6 168.8 448.6 169.0 448.8 169.2 448.8 169.4 449.0 169.6 449.0 169.8 449.2 170.0 449.2 170.2 449.4 170.4 449.4 170.6 449.6 170.8 449.6 171.0 450.0 171.6 450.0 171.8 450.6 172.4 450.8 172.4 451.0 172.6 451.2 172.6 451.6 173.0 451.8 173.0 452.0 173.2 452.2 173.2 452.6 173.6 452.8 173.6 453.0 173.8 453.2 173.8 453.6 174.2 453.8 174.2 454.0 174.4 454.2 174.4 454.6 174.8 454.8 174.8 455.0 175.0 455.2 175.0 455.4 175.2 455.6 175.2 456.2 175.6 456.6 175.6 456.8 175.8 457.0 175.8 457.6 176.2 458.0 176.2 458.2 176.4 458.4 176.4 459.0 176.8 459.4 176.8 460.0 177.2 460.4 177.2 460.6 177.4 460.8 177.4 461.4 177.8 461.8 177.8 462.0 178.0 462.2 178.0 462.4 178.2 462.6 178.2 463.0 178.6 463.2 178.6 463.6 179.0 463.8 179.0 464.0 179.2 464.2 179.2 464.6 179.6 464.8 179.6 465.2 180.0 465.4 180.0 465.6 180.2 465.8 180.2 466.2 180.6 466.4 180.6 466.8 181.0 467.0 181.0 467.2 181.2 467.4 181.2 467.8 181.6 468.0 181.6 468.2 181.8 468.4 181.8 469.0 182.2 469.2 182.2 469.6 182.6 469.8 182.6 470.0 182.8 470.2 182.8 470.8 183.2 471.0 183.2 471.4 183.6 471.6 183.6 471.8 183.8 472.0 183.8 472.6 184.2 472.8 184.2 473.2 184.6 473.4 184.6 473.6 184.8 473.8 184.8 474.4 185.2 474.6 185.2 475.0 185.6 475.2 185.6 475.4 185.8 475.6 185.8 476.2 186.2 476.4 186.2 476.8 186.6 477.0 186.6 477.2 186.8 477.4 186.8 478.0 187.2 478.2 187.2 479.0 188.0 479.0 188.2 479.4 188.8 479.4 189.0 479.8 189.6 479.8 189.8 480.0 190.0 479.4 190.6 479.4 190.8 478.8 191.4 478.8 191.6 478.2 192.2 478.2 192.4 477.6 193.0 477.6 193.2 477.0 193.8 477.0 194.0 476.4 194.6 476.4 194.8 476.2 195.0 476.0 195.0 475.8 195.2 475.6 195.2 475.2 195.6 475.0 195.6 474.8 195.8 474.6 195.8 474.2 196.2 474.0 196.2 473.8 196.4 473.6 196.4 473.2 196.8 473.0 196.8 472.8 197.0 472.6 197.0 472.2 197.4 472.0 197.4 471.8 197.6 471.6 197.6 471.2 198.0 471.0 198.0 470.8 198.2 470.6 198.2 470.2 198.6 470.0 198.6 469.4 199.0 469.2 199.0 469.0 199.2 468.8 199.2 468.6 199.4 468.4 199.4 467.8 199.8 467.6 199.8 467.4 200.0 467.2 200.0 467.0 200.2 466.8 200.2 466.6 200.4 466.4 200.4 465.8 200.8 465.6 200.8 465.4 201.0 465.2 201.0 465.0 201.2 464.8 201.2 464.2 201.6 464.0 201.6 463.8 201.8 463.6 201.8 463.4 202.0 463.2 202.0 463.0 202.2 462.8 202.2 462.2 202.6 462.0 202.6 461.8 202.8 461.6 202.8 461.4 203.0 461.2 203.0 461.0 203.2 460.8 203.2 460.6 203.4 460.4 203.4 460.2 203.6 459.8 203.6 459.6 203.8 458.6 203.8 458.4 204.0 457.6 204.0 457.4 204.2 456.4 204.2 456.2 204.4 455.2 204.4 455.0 204.6 454.2 204.6 454.0 204.8 453.0 204.8 452.8 205.0 451.8 205.0 451.6 205.2 450.6 205.2 450.4 205.4 449.2 205.4 449.0 205.6 447.2 205.6 447.0 205.8 445.2 205.8 445.0 206.0 443.2 206.0 443.0 206.2 441.2 206.2 441.0 206.4 439.2 206.4 439.0 206.6 437.2 206.6 437.0 206.8 435.2 206.8 435.0 207.0 433.2 207.0 433.0 207.2 431.2 207.2 431.0 207.4 429.2 207.4 429.0 207.6 427.2 207.6 427.0 207.8 425.2 207.8 425.0 208.0 423.2 208.0 423.0 208.2 421.2 208.2 421.0 208.4 419.8 208.4 419.6 208.6 419.0 208.6 418.8 208.8 418.2 208.8 418.0 209.0 417.4 209.0 417.2 209.2 416.6 209.2 416.4 209.4 415.8 209.4 415.6 209.6 415.0 209.6 414.8 209.8 414.2 209.8 414.0 210.0 413.4 210.0 413.2 210.2 412.6 210.2 412.4 210.4 411.8 210.4 411.6 210.6 411.0 210.6 410.8 210.8 410.2 210.8 410.0 211.0Z" stroke="#c0504d" stroke-width="0.7" fill="none" stroke-linejoin="round" stroke-opacity="0.9"/>
<path d="M415.2 206.3 415.0 206.3 414.6 206.1 414.0 206.1 413.6 205.9 413.0 205.9 412.6 205.7 412.0 205.7 411.6 205.5 411.0 205.5 410.6 205.3 410.0 205.3 409.6 205.1 409.0 205.1 408.6 204.9 408.0 204.9 407.6 204.7 407.0 204.7 406.6 204.5 406.0 204.5 405.6 204.3 405.0 204.3 404.7 204.0 404.3 203.2 404.3 202.8 403.7 201.8 403.7 201.4 403.1 200.4 403.1 200.0 402.5 199.0 402.5 198.6 401.9 197.4 401.9 187.0 402.1 186.6 402.1 185.0 402.3 184.6 402.3 183.0 402.5 182.6 402.5 181.6 403.1 180.4 403.1 180.2 403.5 179.4 403.5 179.0 404.1 178.0 404.1 177.6 404.5 177.0 404.5 176.8 404.8 176.2 405.0 176.0 406.4 175.3 406.8 175.0 409.2 173.7 409.8 173.7 410.2 173.5 411.2 173.5 411.6 173.3 412.6 173.3 413.0 173.1 414.0 173.1 414.4 172.9 415.4 172.9 415.8 172.7 416.8 172.7 417.2 172.5 418.8 172.5 419.2 172.7 421.2 172.7 421.6 172.9 423.6 172.9 424.0 173.1 425.2 173.1 425.4 173.2 429.8 175.4 430.2 175.8 430.6 176.4 431.4 177.9 431.6 178.2 432.9 180.6 433.0 181.0 433.3 181.6 433.4 182.0 433.8 182.6 434.0 182.7 434.4 182.7 434.8 182.9 435.4 182.9 435.8 183.1 436.4 183.1 436.6 183.3 437.2 183.3 437.6 183.5 438.4 183.5 438.6 183.7 439.2 183.7 439.6 183.9 440.2 184.0 440.4 184.1 441.0 184.1 441.4 184.3 442.0 184.4 442.4 184.6 443.2 184.7 443.6 185.0 451.4 189.0 451.5 189.4 453.3 193.0 453.2 193.6 449.4 197.4 448.8 197.7 447.4 198.1 446.6 198.5 446.4 198.5 446.0 198.7 442.8 199.7 442.0 200.1 440.6 200.5 439.0 201.1 438.6 201.1 437.0 201.7 436.6 201.7 435.0 202.3 434.6 202.3 433.0 202.9 432.6 202.9 431.0 203.5 430.6 203.5 430.2 203.7 429.8 203.7 429.4 203.9 428.6 203.9 428.2 204.1 427.4 204.1 427.0 204.3 426.2 204.3 425.8 204.5 425.0 204.5 424.6 204.7 423.8 204.8 423.4 204.9 422.6 205.0 422.2 205.2 421.4 205.2 421.0 205.4 420.2 205.4 419.8 205.5 419.0 205.6 418.6 205.7 417.8 205.7 417.4 205.9 416.6 205.9 416.2 206.1 415.4 206.1 415.2 206.3Z" stroke="#c0504d" stroke-width="0.7" fill="none" stroke-linejoin="round" stroke-opacity="0.9"/>
<path d="M411.8 186.2 410.8 186.2 409.6 186.1 408.4 185.7 407.6 185.4 406.8 184.9 406.0 184.2 405.4 183.4 405.0 182.6 404.8 181.8 404.8 181.0 404.9 180.2 405.3 179.4 405.8 178.6 406.6 177.9 407.4 177.3 408.4 176.9 409.8 176.5 411.2 176.4 412.6 176.5 414.0 176.9 415.2 177.5 416.2 178.2 416.9 179.0 417.4 180.0 417.6 181.2 417.5 182.2 417.2 183.2 416.4 184.2 415.6 184.9 414.4 185.6 413.0 186.1 411.8 186.2ZM419.8 203.6 416.8 203.8 414.2 203.6 412.0 203.0 410.2 202.2 409.4 201.6 408.8 201.0 408.2 200.2 407.8 199.4 407.7 198.6 407.7 197.8 407.9 197.2 408.3 196.4 409.4 195.1 412.1 192.6 414.0 191.1 416.4 189.5 419.4 187.7 422.4 186.1 425.2 184.9 427.8 183.9 430.0 183.3 432.2 182.9 432.9 183.6 433.4 183.8 435.0 184.0 436.2 184.4 437.8 184.7 438.2 184.8 438.8 184.9 439.2 185.1 439.6 185.1 440.0 185.3 440.6 185.4 441.0 185.7 441.5 185.8 441.9 187.0 442.0 188.2 441.8 189.6 441.3 191.0 440.4 192.6 439.4 194.0 438.2 195.4 436.6 196.8 434.8 198.1 433.0 199.3 431.0 200.3 428.8 201.3 426.8 202.1 424.6 202.7 422.2 203.3 419.8 203.6Z" stroke="#c0504d" stroke-width="0.7" fill="none" stroke-linejoin="round" stroke-opacity="0.9"/>
<path d="M411.4 182.0 410.8 182.0 410.3 181.6 410.2 181.2 410.6 180.7 411.0 180.6 411.4 180.6 411.8 180.7 412.1 181.0 412.2 181.4 412.1 181.6 411.8 181.9 411.4 182.0ZM420.8 201.0 419.0 201.1 417.2 201.1 415.4 200.8 414.0 200.3 412.8 199.7 412.0 199.0 411.6 198.2 411.6 197.4 412.0 196.8 412.3 196.4 413.6 195.5 415.2 194.8 418.9 193.6 422.4 191.7 424.8 190.7 427.0 190.1 429.0 189.9 429.8 190.0 430.6 190.2 431.0 190.4 431.5 190.8 431.8 191.4 431.9 192.0 431.8 192.8 431.4 193.6 430.4 194.8 428.6 196.4 426.9 198.6 425.8 199.5 424.4 200.2 422.6 200.7 420.8 201.0Z" stroke="#c0504d" stroke-width="0.7" fill="none" stroke-linejoin="round" stroke-opacity="0.9"/>
<path d="M421.0 200.2 419.6 200.3 418.0 200.3 416.6 200.1 415.3 199.8 414.4 199.4 413.7 198.8 413.3 198.2 413.3 197.8 413.4 197.4 413.6 197.0 414.0 196.6 414.9 196.0 416.4 195.4 418.2 195.0 420.4 194.7 422.4 194.7 423.8 194.9 424.8 195.3 425.4 196.0 425.7 196.8 425.6 197.6 425.3 198.2 424.6 198.9 423.6 199.5 422.4 199.9 421.0 200.2Z" stroke="#c0504d" stroke-width="0.7" fill="none" stroke-linejoin="round" stroke-opacity="0.9"/>
<path d="M420.6 199.4 419.4 199.5 418.4 199.5 417.5 199.4 416.6 199.1 415.9 198.8 415.4 198.4 415.2 198.0 415.3 197.4 415.8 196.8 416.8 196.2 418.0 195.9 419.4 195.6 420.8 195.6 422.0 195.8 423.0 196.1 423.6 196.6 423.8 197.0 423.9 197.4 423.8 197.8 423.4 198.3 423.0 198.6 422.2 199.0 420.6 199.4Z" stroke="#c0504d" stroke-width="0.7" fill="none" stroke-linejoin="round" stroke-opacity="0.9"/></g>
<path d="M45 216.4v-2.2M45 18.8v2.2M88.38 216.4v-2.2M88.38 18.8v2.2M131.76 216.4v-2.2M131.76 18.8v2.2M175.14 216.4v-2.2M175.14 18.8v2.2M218.52 216.4v-2.2M218.52 18.8v2.2M261.9 216.4v-2.2M261.9 18.8v2.2M45 216.4h2.2M261.9 216.4h-2.2M45 196.64h2.2M261.9 196.64h-2.2M45 176.88h2.2M261.9 176.88h-2.2M45 157.12h2.2M261.9 157.12h-2.2M45 137.36h2.2M261.9 137.36h-2.2M45 117.6h2.2M261.9 117.6h-2.2M45 97.84h2.2M261.9 97.84h-2.2M45 78.08h2.2M261.9 78.08h-2.2M45 58.32h2.2M261.9 58.32h-2.2M45 38.56h2.2M261.9 38.56h-2.2M45 18.8h2.2M261.9 18.8h-2.2" stroke="#222" stroke-width="0.9" fill="none"/>
<rect x="45" y="18.8" width="216.9" height="197.6" fill="none" stroke="#2a2a2a" stroke-width="1.3"/>
<text x="38.55" y="228" class="tk" style="font-size:9.4px" textLength="12.9" lengthAdjust="spacingAndGlyphs">200</text>
<text x="81.93" y="228" class="tk" style="font-size:9.4px" textLength="12.9" lengthAdjust="spacingAndGlyphs">300</text>
<text x="125.31" y="228" class="tk" style="font-size:9.4px" textLength="12.9" lengthAdjust="spacingAndGlyphs">400</text>
<text x="168.69" y="228" class="tk" style="font-size:9.4px" textLength="12.9" lengthAdjust="spacingAndGlyphs">500</text>
<text x="212.07" y="228" class="tk" style="font-size:9.4px" textLength="12.9" lengthAdjust="spacingAndGlyphs">600</text>
<text x="255.45" y="228" class="tk" style="font-size:9.4px" textLength="12.9" lengthAdjust="spacingAndGlyphs">700</text>
<text x="27.3" y="219.4" class="tk" style="font-size:9.4px" textLength="12.9" lengthAdjust="spacingAndGlyphs">200</text>
<text x="27.3" y="199.64" class="tk" style="font-size:9.4px" textLength="12.9" lengthAdjust="spacingAndGlyphs">250</text>
<text x="27.3" y="179.88" class="tk" style="font-size:9.4px" textLength="12.9" lengthAdjust="spacingAndGlyphs">300</text>
<text x="27.3" y="160.12" class="tk" style="font-size:9.4px" textLength="12.9" lengthAdjust="spacingAndGlyphs">350</text>
<text x="27.3" y="140.36" class="tk" style="font-size:9.4px" textLength="12.9" lengthAdjust="spacingAndGlyphs">400</text>
<text x="27.3" y="120.6" class="tk" style="font-size:9.4px" textLength="12.9" lengthAdjust="spacingAndGlyphs">450</text>
<text x="27.3" y="100.84" class="tk" style="font-size:9.4px" textLength="12.9" lengthAdjust="spacingAndGlyphs">500</text>
<text x="27.3" y="81.08" class="tk" style="font-size:9.4px" textLength="12.9" lengthAdjust="spacingAndGlyphs">550</text>
<text x="27.3" y="61.32" class="tk" style="font-size:9.4px" textLength="12.9" lengthAdjust="spacingAndGlyphs">600</text>
<text x="27.3" y="41.56" class="tk" style="font-size:9.4px" textLength="12.9" lengthAdjust="spacingAndGlyphs">650</text>
<text x="27.3" y="21.8" class="tk" style="font-size:9.4px" textLength="12.9" lengthAdjust="spacingAndGlyphs">700</text>
<path d="M360.6 210.3v-2.2M360.6 18.6v2.2M401.96 210.3v-2.2M401.96 18.6v2.2M443.32 210.3v-2.2M443.32 18.6v2.2M484.68 210.3v-2.2M484.68 18.6v2.2M526.04 210.3v-2.2M526.04 18.6v2.2M567.4 210.3v-2.2M567.4 18.6v2.2M360.6 210.3h2.2M567.4 210.3h-2.2M360.6 191.13h2.2M567.4 191.13h-2.2M360.6 171.96h2.2M567.4 171.96h-2.2M360.6 152.79h2.2M567.4 152.79h-2.2M360.6 133.62h2.2M567.4 133.62h-2.2M360.6 114.45h2.2M567.4 114.45h-2.2M360.6 95.28h2.2M567.4 95.28h-2.2M360.6 76.11h2.2M567.4 76.11h-2.2M360.6 56.94h2.2M567.4 56.94h-2.2M360.6 37.77h2.2M567.4 37.77h-2.2M360.6 18.6h2.2M567.4 18.6h-2.2" stroke="#222" stroke-width="0.9" fill="none"/>
<rect x="360.6" y="18.6" width="206.8" height="191.7" fill="none" stroke="#2a2a2a" stroke-width="1.2"/>
<text x="353.8" y="222" class="tk" style="font-size:9.4px" textLength="13.6" lengthAdjust="spacingAndGlyphs">200</text>
<text x="395.16" y="222" class="tk" style="font-size:9.4px" textLength="13.6" lengthAdjust="spacingAndGlyphs">300</text>
<text x="436.52" y="222" class="tk" style="font-size:9.4px" textLength="13.6" lengthAdjust="spacingAndGlyphs">400</text>
<text x="477.88" y="222" class="tk" style="font-size:9.4px" textLength="13.6" lengthAdjust="spacingAndGlyphs">500</text>
<text x="519.24" y="222" class="tk" style="font-size:9.4px" textLength="13.6" lengthAdjust="spacingAndGlyphs">600</text>
<text x="560.6" y="222" class="tk" style="font-size:9.4px" textLength="13.6" lengthAdjust="spacingAndGlyphs">700</text>
<text x="342" y="213.8" class="tk" style="font-size:9.4px" textLength="13.6" lengthAdjust="spacingAndGlyphs">200</text>
<text x="342" y="194.63" class="tk" style="font-size:9.4px" textLength="13.6" lengthAdjust="spacingAndGlyphs">250</text>
<text x="342" y="175.46" class="tk" style="font-size:9.4px" textLength="13.6" lengthAdjust="spacingAndGlyphs">300</text>
<text x="342" y="156.29" class="tk" style="font-size:9.4px" textLength="13.6" lengthAdjust="spacingAndGlyphs">350</text>
<text x="342" y="137.12" class="tk" style="font-size:9.4px" textLength="13.6" lengthAdjust="spacingAndGlyphs">400</text>
<text x="342" y="117.95" class="tk" style="font-size:9.4px" textLength="13.6" lengthAdjust="spacingAndGlyphs">450</text>
<text x="342" y="98.78" class="tk" style="font-size:9.4px" textLength="13.6" lengthAdjust="spacingAndGlyphs">500</text>
<text x="342" y="79.61" class="tk" style="font-size:9.4px" textLength="13.6" lengthAdjust="spacingAndGlyphs">550</text>
<text x="342" y="60.44" class="tk" style="font-size:9.4px" textLength="13.6" lengthAdjust="spacingAndGlyphs">600</text>
<text x="342" y="41.27" class="tk" style="font-size:9.4px" textLength="13.6" lengthAdjust="spacingAndGlyphs">650</text>
<text x="342" y="22.1" class="tk" style="font-size:9.4px" textLength="13.6" lengthAdjust="spacingAndGlyphs">700</text>
<rect x="274.3" y="213.26" width="10.5" height="3.19" fill="#000087"/>
<rect x="274.3" y="210.17" width="10.5" height="3.19" fill="#000097"/>
<rect x="274.3" y="207.09" width="10.5" height="3.19" fill="#0000a7"/>
<rect x="274.3" y="204" width="10.5" height="3.19" fill="#0000b7"/>
<rect x="274.3" y="200.91" width="10.5" height="3.19" fill="#0000c7"/>
<rect x="274.3" y="197.82" width="10.5" height="3.19" fill="#0000d7"/>
<rect x="274.3" y="194.74" width="10.5" height="3.19" fill="#0000e7"/>
<rect x="274.3" y="191.65" width="10.5" height="3.19" fill="#0000f7"/>
<rect x="274.3" y="188.56" width="10.5" height="3.19" fill="#0008ff"/>
<rect x="274.3" y="185.47" width="10.5" height="3.19" fill="#0018ff"/>
<rect x="274.3" y="182.39" width="10.5" height="3.19" fill="#0028ff"/>
<rect x="274.3" y="179.3" width="10.5" height="3.19" fill="#0038ff"/>
<rect x="274.3" y="176.21" width="10.5" height="3.19" fill="#0048ff"/>
<rect x="274.3" y="173.12" width="10.5" height="3.19" fill="#0058ff"/>
<rect x="274.3" y="170.04" width="10.5" height="3.19" fill="#0068ff"/>
<rect x="274.3" y="166.95" width="10.5" height="3.19" fill="#0078ff"/>
<rect x="274.3" y="163.86" width="10.5" height="3.19" fill="#0087ff"/>
<rect x="274.3" y="160.78" width="10.5" height="3.19" fill="#0097ff"/>
<rect x="274.3" y="157.69" width="10.5" height="3.19" fill="#00a7ff"/>
<rect x="274.3" y="154.6" width="10.5" height="3.19" fill="#00b7ff"/>
<rect x="274.3" y="151.51" width="10.5" height="3.19" fill="#00c7ff"/>
<rect x="274.3" y="148.43" width="10.5" height="3.19" fill="#00d7ff"/>
<rect x="274.3" y="145.34" width="10.5" height="3.19" fill="#00e7ff"/>
<rect x="274.3" y="142.25" width="10.5" height="3.19" fill="#00f7ff"/>
<rect x="274.3" y="139.16" width="10.5" height="3.19" fill="#08fff7"/>
<rect x="274.3" y="136.07" width="10.5" height="3.19" fill="#18ffe7"/>
<rect x="274.3" y="132.99" width="10.5" height="3.19" fill="#28ffd7"/>
<rect x="274.3" y="129.9" width="10.5" height="3.19" fill="#38ffc7"/>
<rect x="274.3" y="126.81" width="10.5" height="3.19" fill="#48ffb7"/>
<rect x="274.3" y="123.73" width="10.5" height="3.19" fill="#58ffa7"/>
<rect x="274.3" y="120.64" width="10.5" height="3.19" fill="#68ff97"/>
<rect x="274.3" y="117.55" width="10.5" height="3.19" fill="#78ff87"/>
<rect x="274.3" y="114.46" width="10.5" height="3.19" fill="#87ff78"/>
<rect x="274.3" y="111.38" width="10.5" height="3.19" fill="#97ff68"/>
<rect x="274.3" y="108.29" width="10.5" height="3.19" fill="#a7ff58"/>
<rect x="274.3" y="105.2" width="10.5" height="3.19" fill="#b7ff48"/>
<rect x="274.3" y="102.11" width="10.5" height="3.19" fill="#c7ff38"/>
<rect x="274.3" y="99.03" width="10.5" height="3.19" fill="#d7ff28"/>
<rect x="274.3" y="95.94" width="10.5" height="3.19" fill="#e7ff18"/>
<rect x="274.3" y="92.85" width="10.5" height="3.19" fill="#f7ff08"/>
<rect x="274.3" y="89.76" width="10.5" height="3.19" fill="#fff700"/>
<rect x="274.3" y="86.68" width="10.5" height="3.19" fill="#ffe700"/>
<rect x="274.3" y="83.59" width="10.5" height="3.19" fill="#ffd700"/>
<rect x="274.3" y="80.5" width="10.5" height="3.19" fill="#ffc700"/>
<rect x="274.3" y="77.41" width="10.5" height="3.19" fill="#ffb700"/>
<rect x="274.3" y="74.33" width="10.5" height="3.19" fill="#ffa700"/>
<rect x="274.3" y="71.24" width="10.5" height="3.19" fill="#ff9700"/>
<rect x="274.3" y="68.15" width="10.5" height="3.19" fill="#ff8700"/>
<rect x="274.3" y="65.06" width="10.5" height="3.19" fill="#ff7800"/>
<rect x="274.3" y="61.98" width="10.5" height="3.19" fill="#ff6800"/>
<rect x="274.3" y="58.89" width="10.5" height="3.19" fill="#ff5800"/>
<rect x="274.3" y="55.8" width="10.5" height="3.19" fill="#ff4800"/>
<rect x="274.3" y="52.71" width="10.5" height="3.19" fill="#ff3800"/>
<rect x="274.3" y="49.63" width="10.5" height="3.19" fill="#ff2800"/>
<rect x="274.3" y="46.54" width="10.5" height="3.19" fill="#ff1800"/>
<rect x="274.3" y="43.45" width="10.5" height="3.19" fill="#ff0800"/>
<rect x="274.3" y="40.36" width="10.5" height="3.19" fill="#f70000"/>
<rect x="274.3" y="37.28" width="10.5" height="3.19" fill="#e70000"/>
<rect x="274.3" y="34.19" width="10.5" height="3.19" fill="#d70000"/>
<rect x="274.3" y="31.1" width="10.5" height="3.19" fill="#c70000"/>
<rect x="274.3" y="28.01" width="10.5" height="3.19" fill="#b70000"/>
<rect x="274.3" y="24.93" width="10.5" height="3.19" fill="#a70000"/>
<rect x="274.3" y="21.84" width="10.5" height="3.19" fill="#970000"/>
<rect x="274.3" y="18.75" width="10.5" height="3.19" fill="#870000"/>
<text x="287.6" y="207.02" class="tk" style="font-size:9.3px">5</text>
<text x="287.6" y="184.1" class="tk" style="font-size:9.3px">10</text>
<text x="287.6" y="161.17" class="tk" style="font-size:9.3px">15</text>
<text x="287.6" y="138.25" class="tk" style="font-size:9.3px">20</text>
<text x="287.6" y="115.33" class="tk" style="font-size:9.3px">25</text>
<text x="287.6" y="92.4" class="tk" style="font-size:9.3px">30</text>
<text x="287.6" y="69.48" class="tk" style="font-size:9.3px">35</text>
<text x="287.6" y="46.56" class="tk" style="font-size:9.3px">40</text>
<text x="287.6" y="23.63" class="tk" style="font-size:9.3px">45</text>
<path d="M274.3 204.02h1.8M284.8 204.02h-1.8M274.3 181.1h1.8M284.8 181.1h-1.8M274.3 158.17h1.8M284.8 158.17h-1.8M274.3 135.25h1.8M284.8 135.25h-1.8M274.3 112.33h1.8M284.8 112.33h-1.8M274.3 89.4h1.8M284.8 89.4h-1.8M274.3 66.48h1.8M284.8 66.48h-1.8M274.3 43.56h1.8M284.8 43.56h-1.8M274.3 20.63h1.8M284.8 20.63h-1.8" stroke="#111" stroke-width="0.8" fill="none"/>
<rect x="274.3" y="18.8" width="10.5" height="197.6" fill="none" stroke="#1a1a1a" stroke-width="1"/>
<rect x="577.1" y="207.25" width="11.1" height="3.1" fill="#000087"/>
<rect x="577.1" y="204.26" width="11.1" height="3.1" fill="#000097"/>
<rect x="577.1" y="201.26" width="11.1" height="3.1" fill="#0000a7"/>
<rect x="577.1" y="198.27" width="11.1" height="3.1" fill="#0000b7"/>
<rect x="577.1" y="195.27" width="11.1" height="3.1" fill="#0000c7"/>
<rect x="577.1" y="192.28" width="11.1" height="3.1" fill="#0000d7"/>
<rect x="577.1" y="189.28" width="11.1" height="3.1" fill="#0000e7"/>
<rect x="577.1" y="186.29" width="11.1" height="3.1" fill="#0000f7"/>
<rect x="577.1" y="183.29" width="11.1" height="3.1" fill="#0008ff"/>
<rect x="577.1" y="180.3" width="11.1" height="3.1" fill="#0018ff"/>
<rect x="577.1" y="177.3" width="11.1" height="3.1" fill="#0028ff"/>
<rect x="577.1" y="174.31" width="11.1" height="3.1" fill="#0038ff"/>
<rect x="577.1" y="171.31" width="11.1" height="3.1" fill="#0048ff"/>
<rect x="577.1" y="168.32" width="11.1" height="3.1" fill="#0058ff"/>
<rect x="577.1" y="165.32" width="11.1" height="3.1" fill="#0068ff"/>
<rect x="577.1" y="162.32" width="11.1" height="3.1" fill="#0078ff"/>
<rect x="577.1" y="159.33" width="11.1" height="3.1" fill="#0087ff"/>
<rect x="577.1" y="156.33" width="11.1" height="3.1" fill="#0097ff"/>
<rect x="577.1" y="153.34" width="11.1" height="3.1" fill="#00a7ff"/>
<rect x="577.1" y="150.34" width="11.1" height="3.1" fill="#00b7ff"/>
<rect x="577.1" y="147.35" width="11.1" height="3.1" fill="#00c7ff"/>
<rect x="577.1" y="144.35" width="11.1" height="3.1" fill="#00d7ff"/>
<rect x="577.1" y="141.36" width="11.1" height="3.1" fill="#00e7ff"/>
<rect x="577.1" y="138.36" width="11.1" height="3.1" fill="#00f7ff"/>
<rect x="577.1" y="135.37" width="11.1" height="3.1" fill="#08fff7"/>
<rect x="577.1" y="132.37" width="11.1" height="3.1" fill="#18ffe7"/>
<rect x="577.1" y="129.38" width="11.1" height="3.1" fill="#28ffd7"/>
<rect x="577.1" y="126.38" width="11.1" height="3.1" fill="#38ffc7"/>
<rect x="577.1" y="123.39" width="11.1" height="3.1" fill="#48ffb7"/>
<rect x="577.1" y="120.39" width="11.1" height="3.1" fill="#58ffa7"/>
<rect x="577.1" y="117.4" width="11.1" height="3.1" fill="#68ff97"/>
<rect x="577.1" y="114.4" width="11.1" height="3.1" fill="#78ff87"/>
<rect x="577.1" y="111.4" width="11.1" height="3.1" fill="#87ff78"/>
<rect x="577.1" y="108.41" width="11.1" height="3.1" fill="#97ff68"/>
<rect x="577.1" y="105.41" width="11.1" height="3.1" fill="#a7ff58"/>
<rect x="577.1" y="102.42" width="11.1" height="3.1" fill="#b7ff48"/>
<rect x="577.1" y="99.42" width="11.1" height="3.1" fill="#c7ff38"/>
<rect x="577.1" y="96.43" width="11.1" height="3.1" fill="#d7ff28"/>
<rect x="577.1" y="93.43" width="11.1" height="3.1" fill="#e7ff18"/>
<rect x="577.1" y="90.44" width="11.1" height="3.1" fill="#f7ff08"/>
<rect x="577.1" y="87.44" width="11.1" height="3.1" fill="#fff700"/>
<rect x="577.1" y="84.45" width="11.1" height="3.1" fill="#ffe700"/>
<rect x="577.1" y="81.45" width="11.1" height="3.1" fill="#ffd700"/>
<rect x="577.1" y="78.46" width="11.1" height="3.1" fill="#ffc700"/>
<rect x="577.1" y="75.46" width="11.1" height="3.1" fill="#ffb700"/>
<rect x="577.1" y="72.47" width="11.1" height="3.1" fill="#ffa700"/>
<rect x="577.1" y="69.47" width="11.1" height="3.1" fill="#ff9700"/>
<rect x="577.1" y="66.48" width="11.1" height="3.1" fill="#ff8700"/>
<rect x="577.1" y="63.48" width="11.1" height="3.1" fill="#ff7800"/>
<rect x="577.1" y="60.48" width="11.1" height="3.1" fill="#ff6800"/>
<rect x="577.1" y="57.49" width="11.1" height="3.1" fill="#ff5800"/>
<rect x="577.1" y="54.49" width="11.1" height="3.1" fill="#ff4800"/>
<rect x="577.1" y="51.5" width="11.1" height="3.1" fill="#ff3800"/>
<rect x="577.1" y="48.5" width="11.1" height="3.1" fill="#ff2800"/>
<rect x="577.1" y="45.51" width="11.1" height="3.1" fill="#ff1800"/>
<rect x="577.1" y="42.51" width="11.1" height="3.1" fill="#ff0800"/>
<rect x="577.1" y="39.52" width="11.1" height="3.1" fill="#f70000"/>
<rect x="577.1" y="36.52" width="11.1" height="3.1" fill="#e70000"/>
<rect x="577.1" y="33.53" width="11.1" height="3.1" fill="#d70000"/>
<rect x="577.1" y="30.53" width="11.1" height="3.1" fill="#c70000"/>
<rect x="577.1" y="27.54" width="11.1" height="3.1" fill="#b70000"/>
<rect x="577.1" y="24.54" width="11.1" height="3.1" fill="#a70000"/>
<rect x="577.1" y="21.55" width="11.1" height="3.1" fill="#970000"/>
<rect x="577.1" y="18.55" width="11.1" height="3.1" fill="#870000"/>
<text x="591.6" y="201.46" class="tk" style="font-size:9.1px">5</text>
<text x="591.6" y="179.13" class="tk" style="font-size:9.1px">10</text>
<text x="591.6" y="156.8" class="tk" style="font-size:9.1px">15</text>
<text x="591.6" y="134.47" class="tk" style="font-size:9.1px">20</text>
<text x="591.6" y="112.13" class="tk" style="font-size:9.1px">25</text>
<text x="591.6" y="89.8" class="tk" style="font-size:9.1px">30</text>
<text x="591.6" y="67.47" class="tk" style="font-size:9.1px">35</text>
<text x="591.6" y="45.14" class="tk" style="font-size:9.1px">40</text>
<text x="591.6" y="22.81" class="tk" style="font-size:9.1px">45</text>
<path d="M577.1 198.46h1.8M588.2 198.46h-1.8M577.1 176.13h1.8M588.2 176.13h-1.8M577.1 153.8h1.8M588.2 153.8h-1.8M577.1 131.47h1.8M588.2 131.47h-1.8M577.1 109.13h1.8M588.2 109.13h-1.8M577.1 86.8h1.8M588.2 86.8h-1.8M577.1 64.47h1.8M588.2 64.47h-1.8M577.1 42.14h1.8M588.2 42.14h-1.8M577.1 19.81h1.8M588.2 19.81h-1.8" stroke="#111" stroke-width="0.8" fill="none"/>
<rect x="577.1" y="18.6" width="11.1" height="191.7" fill="none" stroke="#1a1a1a" stroke-width="1"/>
<text x="103.3" y="243.7" class="sr" style="font-size:9.4px" textLength="100.6" lengthAdjust="spacingAndGlyphs">Emission wavelength (nm)</text>
<text x="410.7" y="236.6" class="sr" style="font-size:9.9px" textLength="107.2" lengthAdjust="spacingAndGlyphs">Emission wavelength (nm)</text>
<text transform="translate(17.6 174.1) rotate(-90)" class="sr" style="font-size:10px" textLength="113" lengthAdjust="spacingAndGlyphs">Excitation wavelength (nm)</text>
<text transform="translate(331.2 168.7) rotate(-90)" class="sr" style="font-size:9.8px" textLength="109.3" lengthAdjust="spacingAndGlyphs">Excitation wavelength (nm)</text>
<text x="1.6" y="13.2" class="sb" style="font-size:12px" textLength="13.3" lengthAdjust="spacingAndGlyphs">(a)</text>
<text x="316.5" y="10.3" class="sb" style="font-size:12px" textLength="14.9" lengthAdjust="spacingAndGlyphs">(b)</text>
<text x="111.6" y="32" class="sb" style="font-size:8.6px" textLength="116.8" lengthAdjust="spacingAndGlyphs">Fluorescence spectra before</text>
<text x="142.2" y="44.6" class="sb" style="font-size:8.6px" textLength="55.9" lengthAdjust="spacingAndGlyphs">pretreatment</text>
<text x="416.3" y="31.9" class="sb" style="font-size:8.6px" textLength="109.3" lengthAdjust="spacingAndGlyphs">Fluorescence spectra after</text>
<text x="443.3" y="44.2" class="sb" style="font-size:8.6px" textLength="55.7" lengthAdjust="spacingAndGlyphs">pretreatment</text>
<text x="170.1" y="124.7" class="sb" style="font-size:8.6px" textLength="76.6" lengthAdjust="spacingAndGlyphs">Fluorescence Peak</text>
<text x="191" y="136.8" class="sb" style="font-size:8.6px" textLength="34.7" lengthAdjust="spacingAndGlyphs">Location</text>
<text x="481.7" y="115.9" class="sb" style="font-size:8.6px" textLength="76.8" lengthAdjust="spacingAndGlyphs">Fluorescence Peak</text>
<text x="502.8" y="128.4" class="sb" style="font-size:8.6px" textLength="34.8" lengthAdjust="spacingAndGlyphs">Location</text>
<ellipse cx="108.5" cy="196.7" rx="28.3" ry="19.3" fill="none" stroke="#000" stroke-width="2"/>
<ellipse cx="423.5" cy="188.8" rx="28.2" ry="19.4" fill="none" stroke="#000" stroke-width="2"/>
<line x1="209" y1="143.1" x2="129.3" y2="182.8" stroke="#6a6a6a" stroke-width="0.75"/>
<path d="M129.3 182.8L132.21 179.23L133.91 182.63Z" fill="#222"/>
<line x1="520" y1="134.9" x2="444.2" y2="174.4" stroke="#6a6a6a" stroke-width="0.75"/>
<path d="M444.2 174.4L447.05 170.77L448.8 174.14Z" fill="#222"/>
</svg>
</body></html>
